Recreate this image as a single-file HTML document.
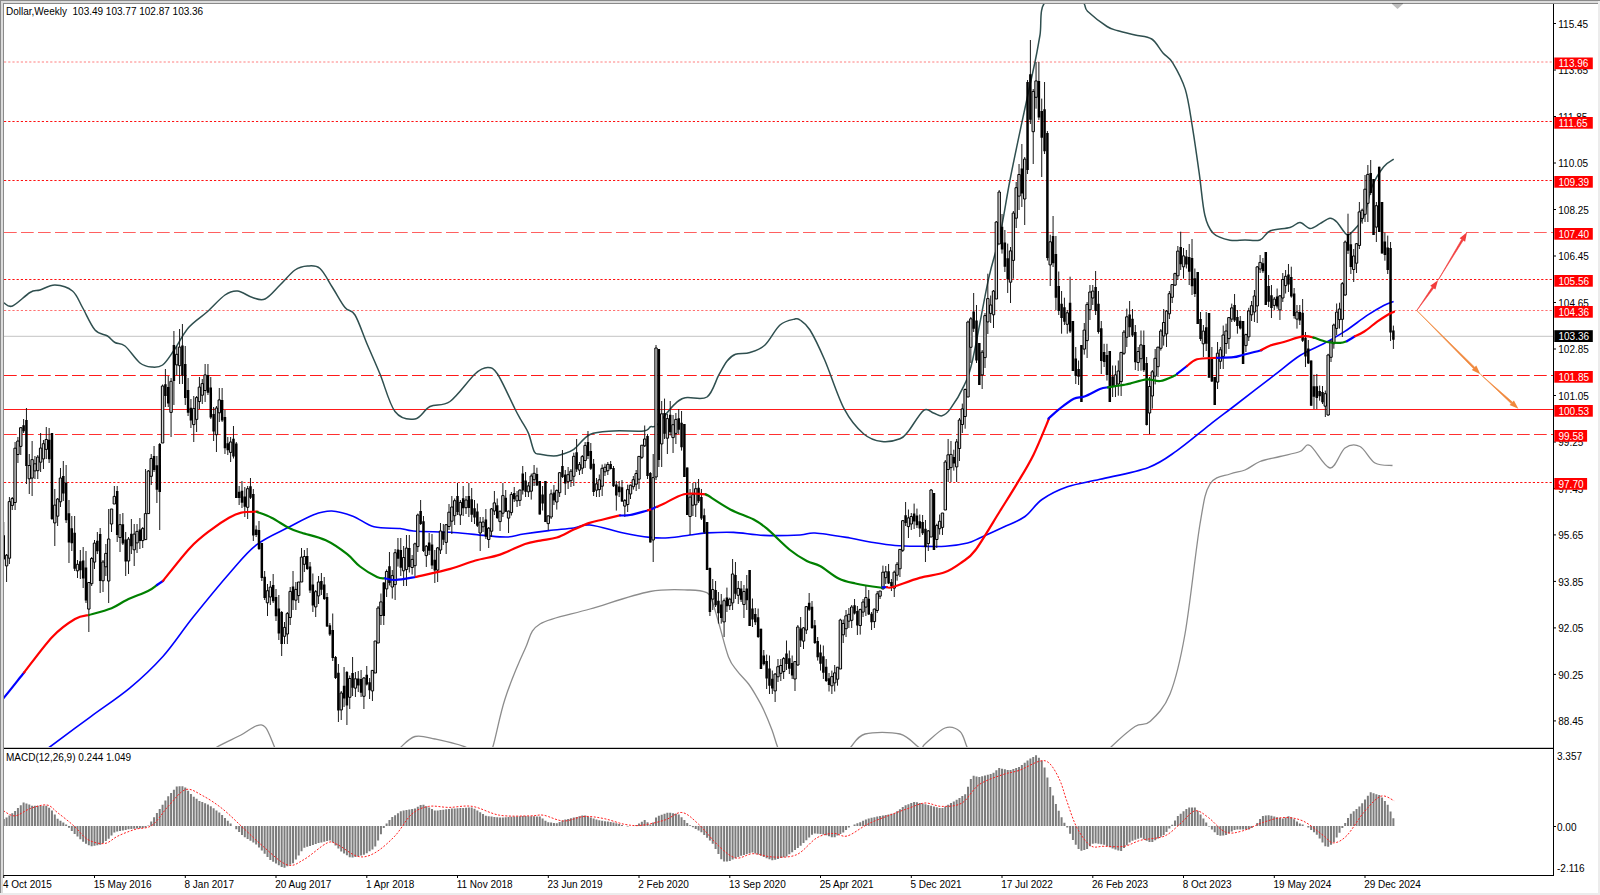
<!DOCTYPE html><html><head><meta charset="utf-8"><style>
html,body{margin:0;padding:0;background:#fff;width:1600px;height:895px;overflow:hidden}
svg{display:block}
text{font-family:"Liberation Sans", sans-serif;}
</style></head><body>
<svg width="1600" height="895" viewBox="0 0 1600 895">
<defs><clipPath id="cm"><rect x="4" y="4" width="1549" height="743"/></clipPath>
<clipPath id="cd"><rect x="4" y="749" width="1549" height="126"/></clipPath></defs>
<rect x="0" y="0" width="1600" height="895" fill="#fff"/>

<rect x="0" y="0" width="1600" height="1" fill="#8a8a8a"/>
<rect x="0" y="1" width="1600" height="2" fill="#dcdcdc"/>
<rect x="0" y="0" width="1" height="895" fill="#8a8a8a"/>
<rect x="1" y="1" width="2" height="894" fill="#dcdcdc"/>
<rect x="3" y="3" width="1595" height="1" fill="#8a8a8a"/>
<rect x="3" y="3" width="1" height="872" fill="#8a8a8a"/>
<rect x="1598" y="1" width="2" height="894" fill="#ececec"/>
<rect x="0" y="893" width="1600" height="2" fill="#ececec"/>
<g clip-path="url(#cm)">
<line x1="4" y1="62" x2="1553" y2="62" stroke="#ff8080" stroke-width="1.1" stroke-dasharray="2.2 2"/>
<line x1="4" y1="121.5" x2="1553" y2="121.5" stroke="#ff1010" stroke-width="1.1" stroke-dasharray="2.2 2"/>
<line x1="4" y1="180.5" x2="1553" y2="180.5" stroke="#ff1010" stroke-width="1.1" stroke-dasharray="2.2 2"/>
<line x1="4" y1="232.5" x2="1553" y2="232.5" stroke="#ff6060" stroke-width="1.1" stroke-dasharray="12.7 4.3"/>
<line x1="4" y1="279.5" x2="1553" y2="279.5" stroke="#ff1010" stroke-width="1.1" stroke-dasharray="2.2 2"/>
<line x1="4" y1="310.5" x2="1553" y2="310.5" stroke="#ff7070" stroke-width="1.1" stroke-dasharray="2.2 2"/>
<line x1="4" y1="375.5" x2="1553" y2="375.5" stroke="#ff1a1a" stroke-width="1.1" stroke-dasharray="12.7 4.3"/>
<line x1="4" y1="409.5" x2="1553" y2="409.5" stroke="#ff1a1a" stroke-width="1.1" />
<line x1="4" y1="434.5" x2="1553" y2="434.5" stroke="#ff3030" stroke-width="1.1" stroke-dasharray="12.7 4.3"/>
<line x1="4" y1="482.5" x2="1553" y2="482.5" stroke="#ff1010" stroke-width="1.1" stroke-dasharray="2.2 2"/>
<line x1="4" y1="336.3" x2="1553" y2="336.3" stroke="#c4c4c4" stroke-width="1"/>
<path d="M4.0,303.0 C5.4,303.5 8.2,307.8 12.5,306.0 C16.8,304.2 25.4,295.2 30.0,292.5 C34.6,289.8 35.8,291.2 40.0,290.0 C44.2,288.8 49.6,284.8 55.0,285.0 C60.4,285.2 67.9,287.2 72.5,291.0 C77.1,294.8 78.8,301.0 82.5,307.5 C86.2,314.0 90.8,325.2 95.0,330.0 C99.2,334.8 104.2,333.9 107.5,336.0 C110.8,338.1 112.1,340.8 115.0,342.5 C117.9,344.2 120.8,342.6 125.0,346.0 C129.2,349.4 135.6,359.5 140.0,363.0 C144.4,366.5 147.9,366.7 151.7,367.0 C155.5,367.3 159.0,367.7 162.6,365.0 C166.2,362.3 169.2,357.2 173.5,351.0 C177.8,344.8 183.0,334.1 188.6,327.6 C194.2,321.1 200.9,317.4 207.0,312.0 C213.1,306.6 219.9,298.5 225.0,295.0 C230.1,291.5 232.9,290.6 237.5,291.0 C242.1,291.4 247.9,296.2 252.5,297.5 C257.1,298.8 260.4,301.1 265.0,299.0 C269.6,296.9 275.0,289.8 280.0,285.0 C285.0,280.2 290.4,273.2 295.0,270.0 C299.6,266.8 303.3,266.2 307.5,266.0 C311.7,265.8 315.8,264.9 320.0,268.5 C324.2,272.1 328.3,281.0 332.5,287.5 C336.7,294.0 341.2,302.9 345.0,307.5 C348.8,312.1 351.2,308.8 355.0,315.0 C358.8,321.2 363.3,335.2 367.5,345.0 C371.7,354.8 375.4,362.9 380.0,374.0 C384.6,385.1 389.2,404.0 395.0,411.5 C400.8,419.0 409.2,419.8 415.0,419.0 C420.8,418.2 424.2,409.4 430.0,406.5 C435.8,403.6 442.5,406.9 450.0,401.5 C457.5,396.1 468.8,379.7 475.0,374.0 C481.2,368.3 483.8,367.5 487.5,367.5 C491.2,367.5 492.9,367.1 497.5,374.0 C502.1,380.9 511.1,401.3 515.0,409.0 C518.9,416.7 518.8,415.9 521.0,420.0 C523.2,424.1 526.3,428.1 528.5,433.4 C530.7,438.7 532.4,448.3 534.4,451.8 C536.4,455.3 537.1,453.6 540.3,454.3 C543.5,455.0 550.1,456.0 553.7,456.0 C557.3,456.0 558.6,455.4 562.0,454.3 C565.4,453.2 569.1,452.6 573.8,449.3 C578.5,446.0 583.4,437.6 590.0,434.5 C596.6,431.4 604.5,431.6 613.5,431.0 C622.5,430.4 637.6,431.7 643.7,431.0 C649.9,430.3 648.2,427.8 650.4,426.8 C652.6,425.8 653.1,428.6 657.0,425.0 C660.9,421.4 668.8,409.9 673.5,405.4 C678.2,400.9 679.6,399.2 685.2,397.8 C690.8,396.4 701.4,400.8 707.0,397.0 C712.6,393.2 715.4,381.2 718.7,375.2 C722.1,369.2 724.3,364.5 727.1,361.0 C729.9,357.5 731.7,355.7 735.5,354.3 C739.3,352.9 745.1,354.1 750.0,352.5 C754.9,350.9 760.0,349.6 765.0,345.0 C770.0,340.4 775.0,329.3 780.0,325.0 C785.0,320.7 791.7,319.8 795.0,319.0 C798.3,318.2 797.5,318.2 800.0,320.0 C802.5,321.8 805.9,323.3 810.0,330.0 C814.1,336.7 819.0,346.9 824.7,360.0 C830.4,373.1 837.7,396.6 844.2,408.9 C850.7,421.2 857.5,428.6 863.8,434.0 C870.1,439.4 876.0,440.8 882.0,441.6 C888.0,442.4 895.6,440.5 900.0,438.8 C904.4,437.1 904.4,435.9 908.4,431.2 C912.4,426.4 919.5,413.3 923.7,410.3 C927.9,407.3 930.5,412.1 933.5,413.0 C936.5,413.9 939.2,416.5 942.0,415.8 C944.8,415.1 946.6,414.0 950.3,408.9 C954.0,403.8 960.6,393.2 964.3,385.1 C968.0,377.0 968.5,377.7 972.6,360.0 C976.7,342.3 984.0,299.5 988.6,278.7 C993.2,257.9 996.4,251.4 1000.0,235.0 C1003.6,218.6 1006.1,200.0 1010.0,180.0 C1013.9,160.0 1019.3,134.7 1023.5,115.0 C1027.7,95.3 1032.2,75.3 1035.0,62.0 C1037.8,48.7 1038.2,45.0 1040.0,35.0 C1041.8,25.0 1038.8,7.5 1045.6,2.0 C1052.3,-3.5 1073.5,0.5 1080.5,2.0 C1087.5,3.5 1083.1,7.1 1087.5,11.2 C1091.9,15.3 1101.9,23.2 1107.0,26.5 C1112.1,29.8 1113.3,29.3 1118.0,30.7 C1122.7,32.1 1129.4,33.6 1135.0,35.0 C1140.6,36.4 1147.0,36.0 1151.7,39.0 C1156.4,42.0 1159.5,49.0 1163.0,53.0 C1166.5,57.0 1169.0,56.7 1172.7,62.8 C1176.4,68.9 1182.0,78.9 1185.3,89.4 C1188.5,99.9 1189.9,111.7 1192.2,125.7 C1194.5,139.7 1197.1,158.3 1199.2,173.2 C1201.3,188.1 1202.5,205.0 1204.8,215.0 C1207.1,225.0 1209.0,229.0 1213.2,233.2 C1217.4,237.4 1224.7,239.1 1230.0,240.2 C1235.3,241.3 1240.0,240.0 1245.0,240.0 C1250.0,240.0 1255.8,241.5 1260.0,240.0 C1264.2,238.5 1265.0,233.1 1270.0,231.0 C1275.0,228.9 1285.0,228.9 1290.0,227.5 C1295.0,226.1 1296.7,222.3 1300.0,222.5 C1303.3,222.7 1306.7,228.3 1310.0,228.5 C1313.3,228.7 1316.7,225.4 1320.0,223.7 C1323.3,222.0 1327.2,218.6 1330.0,218.3 C1332.8,218.0 1334.0,219.3 1336.8,222.0 C1339.6,224.7 1344.0,233.2 1346.8,234.6 C1349.6,236.0 1350.7,233.3 1353.5,230.4 C1356.3,227.5 1360.5,224.3 1363.6,217.0 C1366.7,209.7 1368.7,195.2 1372.0,186.8 C1375.3,178.4 1380.1,171.4 1383.7,166.8 C1387.3,162.2 1392.0,160.5 1393.7,159.2" fill="none" stroke="#2f4f4f" stroke-width="1.5"/>
<path d="M200.0,760.0 C202.8,757.8 210.2,751.2 217.0,747.0 C223.8,742.8 234.5,738.5 241.0,735.0 C247.5,731.5 251.9,727.3 256.0,726.0 C260.1,724.7 262.4,723.9 265.5,727.4 C268.6,730.9 272.1,741.6 274.5,747.0 C276.9,752.4 279.1,757.8 280.0,760.0" fill="none" stroke="#8c8c8c" stroke-width="1.3"/>
<path d="M390.0,760.0 C391.7,758.0 395.8,751.9 400.0,748.0 C404.2,744.1 409.2,738.0 415.0,736.5 C420.8,735.0 426.2,737.1 435.0,739.0 C443.8,740.9 460.8,744.5 467.5,748.0 C474.2,751.5 473.8,758.0 475.0,760.0" fill="none" stroke="#8c8c8c" stroke-width="1.3"/>
<path d="M485.0,760.0 C486.2,758.0 489.2,758.2 492.5,748.0 C495.8,737.8 499.6,715.5 505.0,699.0 C510.4,682.5 519.2,661.5 525.0,649.0 C530.8,636.5 529.2,630.7 540.0,624.0 C550.8,617.3 571.7,614.4 590.0,609.0 C608.3,603.6 633.3,594.7 650.0,591.5 C666.7,588.3 680.5,589.8 690.0,590.0 C699.5,590.2 703.2,591.0 706.8,592.7 C710.4,594.4 709.8,595.3 711.8,600.2 C713.8,605.1 715.7,612.5 718.5,622.0 C721.3,631.5 725.4,648.9 728.5,657.0 C731.6,665.1 733.5,666.1 736.9,670.6 C740.2,675.1 745.2,679.5 748.6,684.0 C752.0,688.5 754.5,693.1 757.0,697.4 C759.5,701.7 761.2,704.6 763.7,710.0 C766.2,715.4 769.6,723.7 772.0,730.0 C774.4,736.3 775.8,743.0 778.0,748.0 C780.2,753.0 783.8,758.0 785.0,760.0" fill="none" stroke="#8c8c8c" stroke-width="1.3"/>
<path d="M840.0,760.0 C841.7,758.0 845.8,752.3 850.0,748.0 C854.2,743.7 856.7,736.3 865.0,734.0 C873.3,731.7 890.8,731.7 900.0,734.0 C909.2,736.3 915.8,746.3 920.0,748.0 C924.2,749.7 920.8,747.3 925.0,744.0 C929.2,740.7 939.2,730.1 945.0,728.0 C950.8,725.9 956.2,728.2 960.0,731.5 C963.8,734.8 965.0,743.2 967.5,748.0 C970.0,752.8 973.8,758.0 975.0,760.0" fill="none" stroke="#8c8c8c" stroke-width="1.3"/>
<path d="M1100.0,760.0 C1101.7,758.0 1104.2,753.6 1110.0,748.0 C1115.8,742.4 1128.3,730.9 1135.0,726.5 C1141.7,722.1 1144.2,726.9 1150.0,721.5 C1155.8,716.1 1164.2,708.6 1170.0,694.0 C1175.8,679.4 1180.0,662.3 1185.0,634.0 C1190.0,605.7 1195.8,549.0 1200.0,524.0 C1204.2,499.0 1205.0,492.3 1210.0,484.0 C1215.0,475.7 1224.2,476.3 1230.0,474.0 C1235.8,471.7 1240.0,472.1 1245.0,470.0 C1250.0,467.9 1254.2,463.8 1260.0,461.5 C1265.8,459.2 1273.3,458.2 1280.0,456.5 C1286.7,454.8 1295.0,453.3 1300.0,451.5 C1305.0,449.7 1305.0,442.8 1310.0,445.5 C1315.0,448.2 1324.2,467.6 1330.0,468.0 C1335.8,468.4 1340.0,451.6 1345.0,448.0 C1350.0,444.4 1355.0,444.0 1360.0,446.5 C1365.0,449.0 1369.6,459.8 1375.0,463.0 C1380.4,466.2 1389.6,465.1 1392.5,465.5" fill="none" stroke="#8c8c8c" stroke-width="1.3"/>
<path d="M40.0,754.0 C41.6,752.8 41.4,753.2 49.8,747.0 C58.2,740.8 77.2,726.6 90.5,716.8 C103.8,707.0 117.6,698.1 129.7,688.1 C141.8,678.1 152.3,668.3 162.9,656.5 C173.5,644.7 181.9,631.1 193.0,617.3 C204.1,603.5 218.7,585.6 229.3,573.5 C239.9,561.4 246.3,552.7 256.4,544.9 C266.4,537.1 280.1,531.8 289.6,526.8 C299.2,521.8 306.7,517.3 313.7,514.7 C320.7,512.1 325.3,510.8 331.8,511.0 C338.3,511.2 345.9,513.6 352.9,516.2 C359.9,518.8 366.1,524.8 374.0,526.8 C381.9,528.8 393.4,527.8 400.0,528.5 C406.6,529.2 404.5,530.3 413.4,531.0 C422.3,531.7 441.9,531.8 453.6,532.5 C465.3,533.2 474.9,534.6 483.8,535.4 C492.7,536.1 500.2,537.2 506.8,537.0 C513.4,536.8 516.5,535.1 523.5,534.0 C530.5,532.9 540.2,531.6 548.6,530.6 C557.0,529.6 566.9,528.9 573.8,528.0 C580.7,527.1 581.7,524.2 590.0,525.0 C598.3,525.8 613.5,530.9 623.5,533.0 C633.5,535.1 642.4,536.6 650.0,537.4 C657.6,538.2 662.3,538.2 669.0,537.8 C675.7,537.4 683.7,535.8 690.0,535.0 C696.3,534.2 699.5,533.3 706.8,532.9 C714.1,532.5 724.1,532.0 733.6,532.4 C743.1,532.8 752.7,535.0 763.8,535.4 C774.9,535.8 791.5,535.4 800.0,535.0 C808.5,534.6 806.7,532.5 815.0,533.0 C823.3,533.5 840.8,536.5 850.0,538.0 C859.2,539.5 862.5,540.8 870.0,542.0 C877.5,543.2 886.7,544.8 895.0,545.5 C903.3,546.2 911.6,546.2 920.0,546.3 C928.4,546.4 937.5,546.8 945.4,546.3 C953.3,545.8 961.8,544.4 967.6,543.0 C973.4,541.6 974.3,540.4 980.3,537.7 C986.3,535.0 996.2,530.5 1003.7,527.0 C1011.2,523.5 1018.6,521.1 1025.0,516.5 C1031.4,511.9 1034.9,504.4 1042.0,499.5 C1049.1,494.6 1057.7,490.2 1067.4,486.8 C1077.1,483.4 1086.5,482.5 1100.0,479.3 C1113.5,476.1 1135.7,472.2 1148.5,467.4 C1161.3,462.6 1166.8,457.7 1177.0,450.6 C1187.2,443.5 1200.0,432.4 1210.0,424.6 C1220.0,416.8 1226.3,412.2 1236.9,404.0 C1247.5,395.8 1263.2,383.7 1273.7,375.6 C1284.2,367.5 1291.7,360.8 1300.0,355.5 C1308.3,350.2 1316.0,347.7 1323.5,343.7 C1331.0,339.7 1337.5,336.1 1344.8,331.4 C1352.1,326.6 1361.0,319.5 1367.5,315.2 C1374.0,310.9 1379.4,307.8 1383.7,305.5 C1388.0,303.2 1391.9,302.2 1393.6,301.6" fill="none" stroke="#0000ff" stroke-width="1.6"/>
<path d="M3.75,522.0V560.0M6.59,554.0V582.0M9.42,497.0V564.0M12.26,497.0V510.0M15.09,442.0V510.0M17.93,437.0V463.0M20.77,427.0V455.0M23.60,419.0V433.0M26.44,408.0V484.0M29.27,454.0V494.0M32.11,441.0V496.0M34.95,456.0V479.0M37.78,455.0V479.0M40.62,433.0V472.0M43.45,440.0V469.0M46.29,427.0V459.0M49.13,428.0V463.0M51.96,433.0V520.0M54.80,489.0V546.0M57.63,498.0V526.0M60.47,468.0V507.0M63.31,461.0V501.0M66.14,465.0V523.0M68.98,500.0V563.0M71.81,516.0V551.0M74.65,516.0V571.0M77.49,560.0V578.0M80.32,550.0V579.0M83.16,547.0V588.0M85.99,551.0V603.0M88.83,582.0V632.0M91.67,557.0V586.0M94.50,540.0V569.0M97.34,532.0V554.0M100.17,528.0V593.0M103.01,560.0V592.0M105.85,544.0V576.0M108.68,509.0V603.0M111.52,509.0V532.0M114.35,486.0V504.0M117.19,486.0V542.0M120.03,514.0V552.0M122.86,513.0V545.0M125.70,532.0V576.0M128.53,537.0V574.0M131.37,519.0V554.0M134.21,524.0V566.0M137.04,524.0V553.0M139.88,518.0V549.0M142.71,527.0V548.0M145.55,469.0V540.0M148.39,470.0V514.0M151.22,454.0V485.0M154.06,446.0V472.0M156.89,456.0V503.0M159.73,443.0V530.0M162.57,384.5V443.0M165.40,369.0V407.0M168.24,376.0V407.0M171.07,378.0V437.0M173.91,331.0V405.0M176.75,346.0V375.0M179.58,329.0V384.0M182.42,324.0V384.0M185.25,346.0V405.0M188.09,378.0V416.0M190.93,399.0V428.0M193.76,396.0V442.0M196.60,396.0V432.0M199.43,377.0V409.0M202.27,379.0V404.0M205.11,364.0V402.0M207.94,364.0V395.0M210.78,377.0V419.0M213.61,407.0V441.0M216.45,406.0V452.0M219.29,388.0V422.0M222.12,388.0V422.0M224.96,410.0V454.0M227.79,437.0V455.0M230.63,437.0V462.0M233.47,426.0V458.5M236.30,442.0V498.0M239.14,486.0V505.0M241.97,481.0V508.0M244.81,487.0V517.0M247.65,486.0V519.0M250.48,478.0V499.0M253.32,489.0V541.0M256.15,525.5V537.0M258.99,521.0V550.0M261.83,543.0V581.0M264.66,571.0V600.0M267.50,584.0V616.0M270.33,581.0V605.0M273.17,574.0V603.0M276.01,589.0V621.0M278.84,595.0V640.0M281.68,611.0V656.0M284.51,622.0V644.0M287.35,612.0V644.0M290.19,587.0V625.0M293.02,571.0V610.0M295.86,582.0V610.0M298.69,582.0V603.0M301.53,548.0V582.0M304.37,550.0V572.0M307.20,548.0V570.0M310.04,562.0V593.0M312.87,573.5V612.0M315.71,590.0V617.0M318.55,576.0V604.0M321.38,573.0V595.0M324.22,577.0V600.0M327.05,593.0V627.0M329.89,623.0V636.0M332.73,613.5V661.0M335.56,656.0V679.0M338.40,664.0V722.0M341.23,691.0V720.0M344.07,667.0V707.0M346.91,671.0V725.0M349.74,675.5V709.0M352.58,657.0V696.0M355.41,672.0V697.0M358.25,671.0V692.0M361.09,670.0V697.0M363.92,677.0V709.0M366.76,666.0V685.5M369.59,678.0V699.0M372.43,670.0V701.0M375.27,641.0V673.0M378.10,606.0V643.0M380.94,593.5V625.0M383.77,582.0V625.0M386.61,569.5V597.0M389.45,552.0V585.5M392.28,570.0V598.6M395.12,549.0V600.0M397.95,538.0V566.6M400.79,538.0V576.0M403.63,546.0V586.0M406.46,535.0V586.0M409.30,535.0V572.5M412.13,555.0V574.6M414.97,542.7V576.0M417.81,513.6V552.0M420.64,500.0V525.0M423.48,516.0V552.0M426.31,545.0V567.0M429.15,533.0V555.0M431.99,534.0V569.0M434.82,550.0V583.0M437.66,547.0V582.0M440.49,523.0V554.0M443.33,524.0V545.0M446.17,524.0V554.0M449.00,504.0V530.0M451.84,496.0V534.0M454.67,498.5V525.0M457.51,483.0V515.0M460.35,500.0V525.0M463.18,486.0V516.0M466.02,496.0V514.0M468.85,483.0V517.0M471.69,488.0V522.0M474.53,500.0V524.0M477.36,503.5V527.0M480.20,517.0V551.0M483.03,517.0V532.0M485.87,509.0V539.0M488.71,527.0V548.0M491.54,508.0V537.0M494.38,491.0V515.0M497.21,498.5V519.0M500.05,510.5V531.0M502.89,483.0V517.0M505.72,490.0V512.0M508.56,510.5V533.0M511.39,492.0V515.5M514.23,487.0V502.0M517.07,491.0V507.0M519.90,489.5V506.0M522.74,466.0V494.5M525.57,472.0V497.0M528.41,482.0V497.0M531.25,473.6V499.6M534.08,465.0V486.0M536.92,467.7V486.0M539.75,481.0V514.6M542.59,486.0V510.5M545.43,481.0V522.0M548.26,515.5V530.0M551.10,489.5V519.0M553.93,485.0V505.0M556.77,489.5V509.6M559.61,472.0V497.0M562.44,450.0V478.0M565.28,470.0V495.0M568.11,467.0V489.0M570.95,469.0V487.0M573.79,452.7V486.0M576.62,439.0V472.0M579.46,462.0V475.0M582.29,455.0V474.0M585.13,442.0V468.0M587.97,431.0V459.0M590.80,443.0V470.0M593.64,459.0V496.0M596.47,478.0V497.0M599.31,474.5V497.0M602.15,464.5V496.0M604.98,463.7V476.0M607.82,462.0V475.0M610.65,461.0V469.5M613.49,466.0V487.0M616.33,481.0V510.6M619.16,481.0V497.0M622.00,480.0V502.0M624.83,499.0V517.0M627.67,484.6V512.0M630.51,484.6V499.0M633.34,476.0V489.6M636.18,470.0V491.0M639.01,456.0V489.0M641.85,445.0V459.0M644.69,425.5V447.0M647.52,434.0V479.0M650.36,472.0V542.5M653.19,454.0V562.0M656.03,345.0V480.0M658.87,349.0V467.0M661.70,401.0V467.0M664.54,398.6V439.0M667.37,414.0V454.0M670.21,401.0V435.5M673.05,415.0V453.0M675.88,413.0V444.0M678.72,409.0V434.0M681.55,411.0V450.6M684.39,424.0V477.0M687.23,467.5V515.0M690.06,489.0V535.0M692.90,483.0V516.0M695.73,482.0V517.0M698.57,479.0V503.0M701.41,489.0V520.0M704.24,508.6V534.0M707.08,522.0V570.0M709.91,567.5V616.0M712.75,579.0V610.0M715.59,581.0V607.0M718.42,592.0V623.6M721.26,594.0V623.6M724.09,598.5V637.0M726.93,587.6V612.0M729.77,597.7V610.0M732.60,559.0V610.0M735.44,562.0V599.0M738.27,581.0V604.0M741.11,581.0V602.0M743.95,585.0V618.0M746.78,575.0V610.0M749.62,570.0V626.0M752.45,598.5V627.0M755.29,608.0V625.0M758.13,608.6V638.0M760.96,628.7V669.0M763.80,650.0V665.5M766.63,654.6V689.0M769.47,655.5V694.0M772.31,670.5V694.0M775.14,673.0V702.0M777.98,659.0V682.0M780.81,659.0V681.0M783.65,657.0V679.0M786.49,640.5V670.0M789.32,650.5V674.0M792.16,655.5V679.0M794.99,661.0V691.0M797.83,625.0V665.6M800.67,617.0V647.0M803.50,627.0V649.0M806.34,606.0V634.0M809.17,593.0V611.0M812.01,601.0V629.0M814.85,620.0V644.0M817.68,637.0V660.6M820.52,644.6V670.6M823.35,645.5V679.0M826.19,659.0V682.0M829.03,673.0V691.5M831.86,670.6V694.0M834.70,665.0V691.5M837.53,667.0V685.7M840.37,618.7V669.0M843.21,619.5V643.0M846.04,610.0V637.0M848.88,608.0V628.0M851.71,605.0V628.0M854.55,599.0V614.5M857.39,606.0V635.0M860.22,608.6V634.6M863.06,599.0V617.0M865.89,586.0V616.0M868.73,590.0V615.0M871.57,612.0V630.0M874.40,608.6V628.0M877.24,591.0V613.0M880.07,591.0V599.0M882.91,565.6V589.0M885.75,566.0V584.0M888.58,564.0V584.0M891.42,579.0V591.0M894.25,570.6V597.0M897.09,562.0V580.7M899.93,549.0V577.0M902.76,520.0V552.0M905.60,502.0V526.0M908.43,509.5V538.0M911.27,513.0V530.0M914.11,503.6V529.0M916.94,508.6V528.0M919.78,514.5V537.0M922.61,515.0V535.0M925.45,520.0V562.0M928.29,530.0V551.0M931.12,489.0V537.0M933.96,493.0V550.0M936.79,523.7V548.0M939.63,514.5V534.6M942.47,513.0V535.0M945.30,460.0V510.0M948.14,439.0V482.0M950.97,441.0V482.0M953.81,449.7V470.6M956.65,439.0V482.0M959.48,418.0V461.0M962.32,403.6V433.0M965.15,388.5V428.7M967.99,320.6V397.0M970.83,317.0V363.0M973.66,293.0V332.0M976.50,305.0V363.0M979.33,343.0V385.0M982.17,350.0V389.0M985.01,313.0V368.0M987.84,273.7V334.0M990.68,295.5V323.0M993.51,290.0V328.0M996.35,221.0V299.0M999.19,190.0V244.0M1002.02,214.0V253.6M1004.86,230.0V272.0M1007.69,243.6V293.0M1010.53,247.0V303.0M1013.37,211.0V278.7M1016.20,182.0V228.0M1019.04,164.0V210.0M1021.87,144.0V207.0M1024.71,157.0V225.0M1027.55,80.0V174.0M1030.38,40.0V124.0M1033.22,89.0V164.0M1036.05,62.0V108.7M1038.89,62.0V120.0M1041.73,98.6V177.0M1044.56,82.0V154.0M1047.40,131.0V260.6M1050.23,234.7V286.0M1053.07,216.0V267.0M1055.91,236.0V310.0M1058.74,271.5V315.0M1061.58,291.0V333.7M1064.41,297.7V325.0M1067.25,310.0V333.7M1070.09,276.7V333.0M1072.92,321.0V371.0M1075.76,347.0V384.0M1078.59,360.5V385.0M1081.43,345.0V402.0M1084.27,323.0V354.6M1087.10,302.0V358.0M1089.94,285.0V320.0M1092.77,285.0V305.0M1095.61,271.0V315.0M1098.45,291.0V333.7M1101.28,321.0V374.0M1104.12,343.8V367.0M1106.95,343.8V380.6M1109.79,351.0V402.0M1112.63,365.5V397.0M1115.46,365.5V397.0M1118.30,360.5V395.7M1121.13,352.0V396.0M1123.97,330.0V355.0M1126.81,308.6V347.0M1129.64,301.0V337.0M1132.48,309.0V337.0M1135.31,325.0V370.0M1138.15,347.0V371.0M1140.99,330.5V370.7M1143.82,330.5V372.0M1146.66,357.0V425.5M1149.49,377.0V434.0M1152.33,370.0V408.7M1155.17,349.0V384.4M1158.00,346.7V377.0M1160.84,329.0V350.6M1163.67,309.0V345.6M1166.51,310.0V347.0M1169.35,291.0V319.0M1172.18,284.4V303.0M1175.02,272.7V286.0M1177.85,246.0V280.0M1180.69,231.7V270.0M1183.53,248.0V278.6M1186.36,250.0V268.5M1189.20,244.0V285.0M1192.03,239.0V295.0M1194.87,268.5V297.0M1197.71,272.0V324.0M1200.54,312.0V341.0M1203.38,325.0V357.0M1206.21,312.0V351.0M1209.05,313.0V377.7M1211.89,347.0V382.0M1214.72,377.0V405.0M1217.56,342.0V389.0M1220.39,347.0V369.0M1223.23,325.5V369.0M1226.07,323.7V353.8M1228.90,317.0V349.0M1231.74,303.6V322.0M1234.57,294.0V322.0M1237.41,310.0V333.7M1240.25,316.0V329.5M1243.08,321.0V364.0M1245.92,333.7V352.0M1248.75,307.8V341.0M1251.59,301.0V321.0M1254.43,290.0V322.0M1257.26,266.0V323.0M1260.10,255.0V273.0M1262.93,258.0V273.0M1265.77,252.0V305.0M1268.61,275.0V307.0M1271.44,285.0V318.0M1274.28,297.0V310.0M1277.11,288.5V308.6M1279.95,295.0V320.0M1282.79,273.0V302.0M1285.62,270.0V293.5M1288.46,264.0V292.0M1291.29,266.7V297.7M1294.13,288.0V318.6M1296.97,305.0V328.6M1299.80,305.0V325.0M1302.64,299.0V342.0M1305.47,332.0V367.0M1308.31,340.0V364.0M1311.15,360.5V405.7M1313.98,374.7V409.0M1316.82,374.0V409.0M1319.65,385.6V400.7M1322.49,386.0V404.0M1325.33,390.6V417.0M1328.16,353.8V415.7M1331.00,340.0V362.0M1333.83,323.6V348.7M1336.67,303.5V335.0M1339.51,302.7V328.6M1342.34,282.0V337.0M1345.18,240.5V295.7M1348.01,213.7V254.0M1350.85,232.0V274.0M1353.69,249.0V282.0M1356.52,243.0V273.0M1359.36,202.0V249.0M1362.19,208.6V223.7M1365.03,175.0V222.0M1367.87,165.0V222.0M1370.70,160.0V195.0M1373.54,179.0V235.0M1376.37,202.0V242.0M1379.21,166.7V232.0M1382.05,202.0V253.6M1384.88,232.5V260.7M1387.72,235.6V274.0M1390.55,242.0V341.0M1393.39,325.6V349.0" stroke="#1a1a1a" stroke-width="1" fill="none"/>
<path d="M5.39,555.2h2.4V565.9h-2.4ZM8.22,501.6h2.4V558.2h-2.4ZM11.06,498.6h2.4V505.4h-2.4ZM13.89,448.2h2.4V502.5h-2.4ZM16.73,441.0h2.4V454.5h-2.4ZM19.57,427.7h2.4V446.4h-2.4ZM28.07,465.5h2.4V478.8h-2.4ZM30.91,459.6h2.4V478.1h-2.4ZM33.75,463.8h2.4V470.9h-2.4ZM36.58,457.1h2.4V470.7h-2.4ZM39.42,448.1h2.4V462.2h-2.4ZM42.25,443.7h2.4V458.9h-2.4ZM45.09,439.5h2.4V449.4h-2.4ZM53.60,505.1h2.4V522.9h-2.4ZM56.43,499.1h2.4V516.2h-2.4ZM59.27,478.0h2.4V501.8h-2.4ZM76.29,564.3h2.4V570.8h-2.4ZM87.63,582.5h2.4V609.1h-2.4ZM90.47,558.5h2.4V583.7h-2.4ZM93.30,543.1h2.4V562.1h-2.4ZM101.81,562.0h2.4V580.8h-2.4ZM104.65,553.4h2.4V566.8h-2.4ZM107.48,539.0h2.4V581.0h-2.4ZM110.32,509.0h2.4V524.0h-2.4ZM113.15,496.4h2.4V504.0h-2.4ZM118.83,524.6h2.4V537.5h-2.4ZM127.33,539.1h2.4V561.0h-2.4ZM133.01,534.1h2.4V549.8h-2.4ZM135.84,531.4h2.4V542.9h-2.4ZM141.51,528.6h2.4V540.6h-2.4ZM144.35,513.6h2.4V539.6h-2.4ZM147.19,471.0h2.4V513.6h-2.4ZM150.02,458.5h2.4V476.3h-2.4ZM161.37,386.0h2.4V443.0h-2.4ZM169.87,381.3h2.4V412.4h-2.4ZM175.55,354.3h2.4V364.9h-2.4ZM178.38,347.1h2.4V365.7h-2.4ZM192.56,408.6h2.4V424.6h-2.4ZM195.40,397.6h2.4V419.4h-2.4ZM198.23,387.1h2.4V401.5h-2.4ZM201.07,383.6h2.4V395.2h-2.4ZM203.91,374.9h2.4V390.5h-2.4ZM215.25,408.0h2.4V434.7h-2.4ZM218.09,399.9h2.4V412.8h-2.4ZM229.43,442.0h2.4V452.4h-2.4ZM246.45,488.7h2.4V507.3h-2.4ZM266.30,590.7h2.4V602.8h-2.4ZM269.13,587.1h2.4V597.0h-2.4ZM283.31,627.4h2.4V636.3h-2.4ZM286.15,613.6h2.4V634.0h-2.4ZM288.99,591.4h2.4V617.5h-2.4ZM294.66,589.4h2.4V600.2h-2.4ZM297.49,582.0h2.4V595.6h-2.4ZM300.33,557.1h2.4V582.0h-2.4ZM303.17,556.5h2.4V564.3h-2.4ZM314.51,591.7h2.4V606.9h-2.4ZM317.35,582.0h2.4V595.9h-2.4ZM340.03,693.0h2.4V709.9h-2.4ZM348.54,678.5h2.4V697.3h-2.4ZM354.21,678.8h2.4V688.1h-2.4ZM362.72,678.0h2.4V696.3h-2.4ZM371.23,670.4h2.4V690.9h-2.4ZM374.07,641.0h2.4V673.0h-2.4ZM376.90,608.0h2.4V643.0h-2.4ZM379.74,601.9h2.4V615.5h-2.4ZM385.41,571.5h2.4V588.9h-2.4ZM391.08,575.6h2.4V587.0h-2.4ZM393.92,552.7h2.4V584.6h-2.4ZM402.43,557.5h2.4V570.8h-2.4ZM405.26,548.1h2.4V569.5h-2.4ZM410.93,559.4h2.4V567.5h-2.4ZM413.77,543.8h2.4V565.7h-2.4ZM416.61,515.0h2.4V546.6h-2.4ZM425.11,546.2h2.4V555.6h-2.4ZM436.46,547.9h2.4V570.1h-2.4ZM439.29,531.0h2.4V550.0h-2.4ZM444.97,524.7h2.4V542.4h-2.4ZM447.80,512.2h2.4V526.5h-2.4ZM450.64,507.0h2.4V521.2h-2.4ZM453.47,500.7h2.4V515.7h-2.4ZM459.15,502.4h2.4V515.0h-2.4ZM464.82,500.0h2.4V507.7h-2.4ZM479.00,522.2h2.4V533.0h-2.4ZM481.83,522.0h2.4V526.8h-2.4ZM487.51,528.2h2.4V539.5h-2.4ZM490.34,508.9h2.4V531.2h-2.4ZM493.18,502.9h2.4V511.0h-2.4ZM498.85,511.3h2.4V521.6h-2.4ZM501.69,495.6h2.4V513.2h-2.4ZM507.36,511.1h2.4V518.1h-2.4ZM510.19,494.4h2.4V512.6h-2.4ZM515.87,495.9h2.4V500.8h-2.4ZM518.70,490.1h2.4V500.4h-2.4ZM527.21,485.9h2.4V491.8h-2.4ZM530.05,476.0h2.4V491.2h-2.4ZM532.88,473.3h2.4V479.7h-2.4ZM547.06,515.9h2.4V523.6h-2.4ZM549.90,493.9h2.4V517.0h-2.4ZM555.57,490.4h2.4V502.0h-2.4ZM558.41,472.7h2.4V492.7h-2.4ZM566.91,474.7h2.4V481.7h-2.4ZM569.75,471.2h2.4V480.7h-2.4ZM572.59,456.3h2.4V476.3h-2.4ZM578.26,464.6h2.4V470.1h-2.4ZM581.09,456.6h2.4V468.2h-2.4ZM583.93,445.4h2.4V460.5h-2.4ZM595.27,483.9h2.4V490.2h-2.4ZM598.11,479.8h2.4V489.6h-2.4ZM600.95,468.3h2.4V486.2h-2.4ZM603.78,467.3h2.4V471.8h-2.4ZM606.62,464.4h2.4V470.7h-2.4ZM623.63,500.6h2.4V506.1h-2.4ZM626.47,489.6h2.4V504.5h-2.4ZM629.31,485.2h2.4V494.0h-2.4ZM632.14,479.7h2.4V486.7h-2.4ZM634.98,473.5h2.4V484.2h-2.4ZM637.81,456.4h2.4V479.2h-2.4ZM640.65,445.2h2.4V457.3h-2.4ZM643.49,439.0h2.4V445.8h-2.4ZM651.99,477.6h2.4V540.0h-2.4ZM654.83,348.0h2.4V477.0h-2.4ZM660.50,413.8h2.4V443.9h-2.4ZM666.17,418.6h2.4V438.2h-2.4ZM671.85,424.7h2.4V437.6h-2.4ZM674.68,419.4h2.4V433.4h-2.4ZM688.86,497.1h2.4V516.5h-2.4ZM691.70,494.6h2.4V505.2h-2.4ZM694.53,488.7h2.4V504.8h-2.4ZM711.55,589.5h2.4V599.1h-2.4ZM722.89,600.7h2.4V621.9h-2.4ZM728.57,599.2h2.4V605.7h-2.4ZM731.40,574.0h2.4V602.9h-2.4ZM737.07,588.4h2.4V595.3h-2.4ZM742.75,591.5h2.4V604.5h-2.4ZM773.94,674.1h2.4V690.9h-2.4ZM776.78,666.7h2.4V676.8h-2.4ZM779.61,665.5h2.4V673.3h-2.4ZM782.45,658.6h2.4V671.5h-2.4ZM793.79,661.6h2.4V679.0h-2.4ZM796.63,627.0h2.4V665.0h-2.4ZM802.30,627.9h2.4V641.1h-2.4ZM805.14,606.6h2.4V630.0h-2.4ZM830.66,676.6h2.4V685.8h-2.4ZM833.50,672.9h2.4V682.9h-2.4ZM836.33,667.2h2.4V679.2h-2.4ZM839.17,620.0h2.4V669.0h-2.4ZM842.01,623.5h2.4V634.8h-2.4ZM844.84,615.8h2.4V628.7h-2.4ZM847.68,614.3h2.4V621.2h-2.4ZM850.51,607.0h2.4V620.3h-2.4ZM859.02,609.6h2.4V625.5h-2.4ZM861.86,602.0h2.4V612.1h-2.4ZM864.69,597.5h2.4V607.1h-2.4ZM873.20,609.1h2.4V621.6h-2.4ZM876.04,593.8h2.4V610.5h-2.4ZM878.87,591.0h2.4V596.2h-2.4ZM881.71,572.2h2.4V589.0h-2.4ZM884.55,571.8h2.4V577.7h-2.4ZM893.05,572.2h2.4V588.1h-2.4ZM895.89,564.3h2.4V575.2h-2.4ZM898.73,549.4h2.4V568.8h-2.4ZM901.56,520.7h2.4V550.3h-2.4ZM907.23,517.9h2.4V526.6h-2.4ZM910.07,516.5h2.4V524.0h-2.4ZM927.09,530.9h2.4V543.6h-2.4ZM929.92,490.0h2.4V537.0h-2.4ZM935.59,525.4h2.4V539.5h-2.4ZM938.43,521.3h2.4V528.7h-2.4ZM941.27,513.0h2.4V527.4h-2.4ZM944.10,462.0h2.4V510.0h-2.4ZM946.94,454.8h2.4V469.5h-2.4ZM949.77,454.4h2.4V467.6h-2.4ZM955.45,441.9h2.4V466.9h-2.4ZM958.28,420.0h2.4V448.5h-2.4ZM961.12,408.9h2.4V424.5h-2.4ZM963.95,389.5h2.4V416.5h-2.4ZM966.79,322.0h2.4V397.0h-2.4ZM969.63,318.8h2.4V347.3h-2.4ZM980.97,352.2h2.4V374.9h-2.4ZM983.81,315.6h2.4V357.6h-2.4ZM986.64,298.6h2.4V321.9h-2.4ZM989.48,305.0h2.4V313.4h-2.4ZM992.31,291.1h2.4V314.8h-2.4ZM995.15,222.0h2.4V299.0h-2.4ZM997.99,192.0h2.4V244.0h-2.4ZM1009.33,250.9h2.4V282.2h-2.4ZM1012.17,213.1h2.4V260.4h-2.4ZM1015.00,187.7h2.4V218.2h-2.4ZM1017.84,174.5h2.4V196.1h-2.4ZM1023.51,159.1h2.4V199.0h-2.4ZM1032.02,91.4h2.4V131.7h-2.4ZM1034.85,80.9h2.4V97.3h-2.4ZM1049.03,241.8h2.4V264.9h-2.4ZM1066.05,312.8h2.4V324.3h-2.4ZM1083.07,330.1h2.4V349.1h-2.4ZM1085.90,304.4h2.4V340.6h-2.4ZM1088.74,292.0h2.4V309.8h-2.4ZM1091.57,291.1h2.4V298.0h-2.4ZM1114.26,374.9h2.4V386.0h-2.4ZM1117.10,371.0h2.4V384.0h-2.4ZM1119.93,352.4h2.4V381.6h-2.4ZM1122.77,332.1h2.4V353.3h-2.4ZM1125.61,316.8h2.4V337.2h-2.4ZM1136.95,351.5h2.4V362.5h-2.4ZM1139.79,344.9h2.4V358.7h-2.4ZM1148.29,386.5h2.4V413.0h-2.4ZM1151.13,371.8h2.4V396.0h-2.4ZM1153.97,358.3h2.4V376.1h-2.4ZM1156.80,347.2h2.4V366.7h-2.4ZM1159.64,331.0h2.4V348.3h-2.4ZM1162.47,322.5h2.4V336.0h-2.4ZM1165.31,311.1h2.4V333.9h-2.4ZM1168.15,293.7h2.4V313.8h-2.4ZM1170.98,284.6h2.4V297.3h-2.4ZM1173.82,273.6h2.4V285.1h-2.4ZM1176.65,251.1h2.4V275.8h-2.4ZM1182.33,255.9h2.4V266.8h-2.4ZM1202.18,331.1h2.4V343.8h-2.4ZM1216.36,353.2h2.4V382.1h-2.4ZM1219.19,349.8h2.4V361.3h-2.4ZM1222.03,335.0h2.4V356.4h-2.4ZM1224.87,331.0h2.4V343.5h-2.4ZM1227.70,317.6h2.4V338.6h-2.4ZM1230.54,307.9h2.4V319.1h-2.4ZM1244.72,334.6h2.4V345.6h-2.4ZM1247.55,310.9h2.4V336.8h-2.4ZM1250.39,305.7h2.4V314.8h-2.4ZM1253.23,296.0h2.4V312.0h-2.4ZM1256.06,266.9h2.4V305.9h-2.4ZM1258.90,262.4h2.4V269.0h-2.4ZM1273.08,299.1h2.4V305.4h-2.4ZM1278.75,295.9h2.4V309.9h-2.4ZM1281.59,279.5h2.4V298.0h-2.4ZM1284.42,276.3h2.4V285.6h-2.4ZM1295.77,312.0h2.4V319.1h-2.4ZM1324.13,393.7h2.4V406.2h-2.4ZM1326.96,355.0h2.4V415.0h-2.4ZM1329.80,341.1h2.4V357.3h-2.4ZM1332.63,325.0h2.4V343.7h-2.4ZM1335.47,312.1h2.4V328.4h-2.4ZM1338.31,309.0h2.4V319.6h-2.4ZM1341.14,283.7h2.4V319.3h-2.4ZM1343.98,242.0h2.4V295.0h-2.4ZM1352.49,256.0h2.4V269.5h-2.4ZM1355.32,243.7h2.4V263.2h-2.4ZM1358.16,211.9h2.4V245.5h-2.4ZM1360.99,210.2h2.4V218.4h-2.4ZM1363.83,189.2h2.4V214.3h-2.4ZM1366.67,174.4h2.4V203.3h-2.4ZM1375.17,205.7h2.4V227.1h-2.4Z" fill="#d4d4d4" stroke="#000" stroke-width="1"/>
<path d="M2.50,535.3h2.5V559.3h-2.5ZM22.35,425.3h2.5V431.3h-2.5ZM25.19,420.0h2.5V466.0h-2.5ZM47.88,439.8h2.5V459.3h-2.5ZM50.71,433.0h2.5V519.0h-2.5ZM62.06,475.9h2.5V493.4h-2.5ZM64.89,482.6h2.5V520.2h-2.5ZM67.73,513.3h2.5V542.4h-2.5ZM70.56,528.2h2.5V543.3h-2.5ZM73.40,532.8h2.5V568.7h-2.5ZM79.07,561.3h2.5V570.2h-2.5ZM81.91,560.6h2.5V578.5h-2.5ZM84.74,567.4h2.5V600.4h-2.5ZM96.09,540.7h2.5V551.3h-2.5ZM98.92,534.0h2.5V581.0h-2.5ZM115.94,491.0h2.5V535.0h-2.5ZM121.61,524.3h2.5V543.4h-2.5ZM124.45,539.5h2.5V561.6h-2.5ZM130.12,533.7h2.5V546.2h-2.5ZM138.63,529.6h2.5V541.0h-2.5ZM152.81,456.1h2.5V470.0h-2.5ZM155.64,465.2h2.5V489.7h-2.5ZM158.48,444.0h2.5V492.0h-2.5ZM164.15,384.2h2.5V396.1h-2.5ZM166.99,386.9h2.5V403.4h-2.5ZM172.66,345.0h2.5V381.0h-2.5ZM181.17,345.6h2.5V375.5h-2.5ZM184.00,364.1h2.5V398.1h-2.5ZM186.84,390.0h2.5V412.8h-2.5ZM189.68,407.7h2.5V420.4h-2.5ZM206.69,374.9h2.5V392.8h-2.5ZM209.53,387.4h2.5V417.5h-2.5ZM212.36,413.9h2.5V431.4h-2.5ZM220.87,399.9h2.5V420.5h-2.5ZM223.71,416.9h2.5V448.3h-2.5ZM226.54,443.2h2.5V450.3h-2.5ZM232.22,438.7h2.5V456.5h-2.5ZM235.05,443.5h2.5V498.0h-2.5ZM237.89,491.8h2.5V497.9h-2.5ZM240.72,490.7h2.5V502.7h-2.5ZM243.56,496.4h2.5V506.7h-2.5ZM249.23,486.3h2.5V497.8h-2.5ZM252.07,494.0h2.5V535.6h-2.5ZM254.90,529.5h2.5V534.9h-2.5ZM257.74,530.1h2.5V549.1h-2.5ZM260.58,543.0h2.5V578.0h-2.5ZM263.41,576.8h2.5V598.0h-2.5ZM271.92,585.0h2.5V601.3h-2.5ZM274.76,597.1h2.5V616.2h-2.5ZM277.59,608.4h2.5V633.5h-2.5ZM280.43,612.0h2.5V644.0h-2.5ZM291.77,586.6h2.5V600.2h-2.5ZM305.95,555.9h2.5V569.0h-2.5ZM308.79,566.6h2.5V590.5h-2.5ZM311.62,584.6h2.5V605.4h-2.5ZM320.13,581.1h2.5V589.8h-2.5ZM322.97,584.4h2.5V599.1h-2.5ZM325.80,597.0h2.5V626.5h-2.5ZM328.64,625.3h2.5V634.4h-2.5ZM331.48,630.0h2.5V658.0h-2.5ZM334.31,657.0h2.5V678.0h-2.5ZM337.15,672.7h2.5V710.5h-2.5ZM342.82,685.8h2.5V698.5h-2.5ZM345.66,672.0h2.5V705.6h-2.5ZM351.33,672.9h2.5V687.8h-2.5ZM357.00,678.5h2.5V685.6h-2.5ZM359.84,679.0h2.5V692.7h-2.5ZM365.51,674.7h2.5V684.6h-2.5ZM368.34,682.3h2.5V690.3h-2.5ZM382.52,582.5h2.5V616.0h-2.5ZM388.20,566.2h2.5V583.1h-2.5ZM396.70,549.4h2.5V558.7h-2.5ZM399.54,550.1h2.5V567.8h-2.5ZM408.05,548.1h2.5V566.9h-2.5ZM419.39,510.9h2.5V523.9h-2.5ZM422.23,521.2h2.5V551.1h-2.5ZM427.90,542.6h2.5V550.8h-2.5ZM430.74,544.5h2.5V565.5h-2.5ZM433.57,559.8h2.5V570.4h-2.5ZM442.08,531.4h2.5V539.7h-2.5ZM456.26,496.1h2.5V512.0h-2.5ZM461.93,498.2h2.5V508.3h-2.5ZM467.60,496.1h2.5V508.0h-2.5ZM470.44,499.3h2.5V514.8h-2.5ZM473.28,508.2h2.5V517.5h-2.5ZM476.11,511.4h2.5V525.8h-2.5ZM484.62,519.6h2.5V536.8h-2.5ZM495.96,505.2h2.5V518.0h-2.5ZM504.47,497.7h2.5V511.8h-2.5ZM512.98,492.9h2.5V499.3h-2.5ZM521.49,473.6h2.5V490.4h-2.5ZM524.32,480.4h2.5V491.8h-2.5ZM535.67,474.1h2.5V485.4h-2.5ZM538.50,481.0h2.5V514.6h-2.5ZM541.34,494.6h2.5V503.4h-2.5ZM544.18,481.0h2.5V522.0h-2.5ZM552.68,492.6h2.5V500.6h-2.5ZM561.19,466.1h2.5V477.0h-2.5ZM564.03,474.6h2.5V483.5h-2.5ZM575.37,452.2h2.5V469.2h-2.5ZM586.72,442.1h2.5V455.9h-2.5ZM589.55,451.1h2.5V468.7h-2.5ZM592.39,463.7h2.5V492.0h-2.5ZM609.40,464.1h2.5V469.1h-2.5ZM612.24,468.0h2.5V486.3h-2.5ZM615.08,484.5h2.5V495.5h-2.5ZM617.91,486.6h2.5V492.3h-2.5ZM620.75,487.2h2.5V501.6h-2.5ZM646.27,436.0h2.5V476.0h-2.5ZM649.11,473.0h2.5V542.5h-2.5ZM657.62,349.0h2.5V460.0h-2.5ZM663.29,413.0h2.5V433.7h-2.5ZM668.96,414.7h2.5V432.3h-2.5ZM677.47,418.2h2.5V429.7h-2.5ZM680.30,422.8h2.5V447.3h-2.5ZM683.14,424.0h2.5V477.0h-2.5ZM685.98,467.5h2.5V515.0h-2.5ZM697.32,487.8h2.5V501.3h-2.5ZM700.16,497.1h2.5V518.6h-2.5ZM702.99,515.2h2.5V532.5h-2.5ZM705.83,522.0h2.5V570.0h-2.5ZM708.66,568.0h2.5V612.0h-2.5ZM714.34,590.1h2.5V605.2h-2.5ZM717.17,600.7h2.5V613.2h-2.5ZM720.01,604.4h2.5V617.9h-2.5ZM725.68,597.5h2.5V606.3h-2.5ZM734.19,575.0h2.5V593.8h-2.5ZM739.86,588.4h2.5V599.7h-2.5ZM745.53,588.5h2.5V600.3h-2.5ZM748.37,570.0h2.5V626.0h-2.5ZM751.20,608.4h2.5V619.6h-2.5ZM754.04,614.0h2.5V622.2h-2.5ZM756.88,617.3h2.5V636.9h-2.5ZM759.71,628.7h2.5V669.0h-2.5ZM762.55,655.4h2.5V664.2h-2.5ZM765.38,660.9h2.5V678.4h-2.5ZM768.22,668.4h2.5V685.8h-2.5ZM771.06,678.7h2.5V688.5h-2.5ZM785.24,653.6h2.5V664.1h-2.5ZM788.07,658.2h2.5V668.7h-2.5ZM790.91,663.1h2.5V675.4h-2.5ZM799.42,628.5h2.5V640.5h-2.5ZM807.92,602.7h2.5V609.8h-2.5ZM810.76,606.8h2.5V627.9h-2.5ZM813.60,625.2h2.5V643.1h-2.5ZM816.43,641.0h2.5V657.3h-2.5ZM819.27,652.5h2.5V663.7h-2.5ZM822.10,656.2h2.5V672.7h-2.5ZM824.94,666.7h2.5V680.9h-2.5ZM827.78,678.2h2.5V685.0h-2.5ZM853.30,605.2h2.5V613.5h-2.5ZM856.14,610.9h2.5V625.6h-2.5ZM867.48,598.8h2.5V614.6h-2.5ZM870.32,613.7h2.5V622.2h-2.5ZM887.33,571.2h2.5V583.4h-2.5ZM890.17,581.9h2.5V586.3h-2.5ZM904.35,515.3h2.5V523.0h-2.5ZM912.86,513.6h2.5V521.5h-2.5ZM915.69,515.4h2.5V525.3h-2.5ZM918.53,521.3h2.5V528.6h-2.5ZM921.36,522.0h2.5V533.2h-2.5ZM924.20,528.7h2.5V547.0h-2.5ZM932.71,493.0h2.5V550.0h-2.5ZM952.56,457.0h2.5V463.4h-2.5ZM972.41,311.6h2.5V328.7h-2.5ZM975.25,320.6h2.5V360.6h-2.5ZM978.08,343.0h2.5V385.0h-2.5ZM1000.77,226.7h2.5V249.5h-2.5ZM1003.61,242.4h2.5V266.8h-2.5ZM1006.44,258.3h2.5V279.2h-2.5ZM1020.62,168.5h2.5V193.6h-2.5ZM1026.30,82.0h2.5V170.0h-2.5ZM1029.13,74.3h2.5V119.7h-2.5ZM1037.64,80.9h2.5V117.4h-2.5ZM1040.48,111.0h2.5V137.7h-2.5ZM1043.31,109.2h2.5V151.2h-2.5ZM1046.15,133.0h2.5V258.0h-2.5ZM1051.82,236.1h2.5V263.2h-2.5ZM1054.66,253.9h2.5V297.7h-2.5ZM1057.49,286.1h2.5V310.9h-2.5ZM1060.33,303.7h2.5V318.1h-2.5ZM1063.16,307.3h2.5V321.7h-2.5ZM1068.84,302.8h2.5V331.5h-2.5ZM1071.67,321.0h2.5V371.0h-2.5ZM1074.51,358.4h2.5V376.0h-2.5ZM1077.34,369.0h2.5V376.8h-2.5ZM1080.18,345.0h2.5V402.0h-2.5ZM1094.36,286.9h2.5V310.9h-2.5ZM1097.20,303.7h2.5V332.1h-2.5ZM1100.03,328.3h2.5V361.0h-2.5ZM1102.87,351.9h2.5V362.0h-2.5ZM1105.70,355.0h2.5V375.1h-2.5ZM1108.54,351.0h2.5V402.0h-2.5ZM1111.38,376.5h2.5V386.0h-2.5ZM1128.39,314.5h2.5V327.2h-2.5ZM1131.23,318.8h2.5V335.5h-2.5ZM1134.06,331.9h2.5V362.2h-2.5ZM1142.57,344.9h2.5V370.2h-2.5ZM1145.41,363.0h2.5V425.0h-2.5ZM1179.44,246.9h2.5V264.3h-2.5ZM1185.11,256.5h2.5V264.4h-2.5ZM1187.95,257.1h2.5V271.8h-2.5ZM1190.78,258.0h2.5V286.2h-2.5ZM1193.62,278.2h2.5V293.9h-2.5ZM1196.46,272.0h2.5V324.0h-2.5ZM1199.29,318.9h2.5V339.0h-2.5ZM1204.96,327.2h2.5V343.8h-2.5ZM1207.80,313.0h2.5V377.7h-2.5ZM1210.64,358.7h2.5V381.4h-2.5ZM1213.47,377.0h2.5V405.0h-2.5ZM1233.32,305.0h2.5V320.5h-2.5ZM1236.16,316.9h2.5V326.0h-2.5ZM1239.00,320.7h2.5V328.5h-2.5ZM1241.83,321.0h2.5V364.0h-2.5ZM1261.68,263.2h2.5V271.2h-2.5ZM1264.52,252.0h2.5V305.0h-2.5ZM1267.36,286.0h2.5V301.8h-2.5ZM1270.19,295.2h2.5V307.9h-2.5ZM1275.86,296.6h2.5V306.4h-2.5ZM1287.21,274.5h2.5V284.4h-2.5ZM1290.04,276.9h2.5V296.5h-2.5ZM1292.88,293.6h2.5V316.1h-2.5ZM1298.55,312.0h2.5V320.5h-2.5ZM1301.39,312.7h2.5V340.8h-2.5ZM1304.22,337.8h2.5V356.5h-2.5ZM1307.06,348.4h2.5V363.6h-2.5ZM1309.90,360.5h2.5V405.7h-2.5ZM1312.73,386.3h2.5V396.8h-2.5ZM1315.57,386.3h2.5V397.9h-2.5ZM1318.40,390.9h2.5V396.3h-2.5ZM1321.24,391.9h2.5V402.3h-2.5ZM1346.76,234.1h2.5V250.8h-2.5ZM1349.60,244.2h2.5V267.1h-2.5ZM1369.45,172.9h2.5V193.0h-2.5ZM1372.29,179.0h2.5V235.0h-2.5ZM1377.96,166.7h2.5V232.0h-2.5ZM1380.80,202.0h2.5V253.6h-2.5ZM1383.63,241.5h2.5V254.9h-2.5ZM1386.47,247.4h2.5V270.1h-2.5ZM1389.30,248.0h2.5V332.4h-2.5ZM1392.14,330.4h2.5V339.8h-2.5Z" fill="#000"/>
<path d="M0.0,698.7 C0.5,698.7 -0.8,702.7 3.0,698.7 C6.8,694.7 19.0,678.8 22.5,674.5 C26.0,670.2 23.8,672.9 24.0,672.6" fill="none" stroke="#0000ff" stroke-width="2.2" stroke-linecap="round"/>
<path d="M24.0,672.6 C28.8,666.6 44.0,645.6 52.5,636.7 C61.0,627.8 68.9,622.6 75.0,619.0 C81.1,615.4 86.7,615.7 89.0,615.0" fill="none" stroke="#ff0000" stroke-width="2.2" stroke-linecap="round"/>
<path d="M89.0,615.0 C92.8,613.9 105.3,610.7 111.6,608.2 C117.9,605.7 120.6,602.9 126.7,600.0 C132.8,597.1 142.9,593.5 148.0,591.0 C153.1,588.5 155.5,586.0 157.0,585.0" fill="none" stroke="#008000" stroke-width="2.2" stroke-linecap="round"/>
<path d="M157.0,585.0 C158.0,584.3 161.9,581.7 162.9,581.0 C163.9,580.3 163.0,580.9 163.0,580.9" fill="none" stroke="#0000ff" stroke-width="2.2" stroke-linecap="round"/>
<path d="M163.0,580.9 C167.5,575.4 182.0,556.4 190.0,547.9 C198.0,539.4 204.5,534.8 211.0,529.8 C217.5,524.8 223.9,520.6 229.0,517.7 C234.1,514.8 236.7,513.6 241.3,512.6 C245.9,511.6 253.8,511.8 256.4,511.7 C259.0,511.6 256.9,511.9 257.0,511.9" fill="none" stroke="#ff0000" stroke-width="2.2" stroke-linecap="round"/>
<path d="M257.0,511.9 C259.4,512.9 266.1,515.0 271.5,517.7 C276.9,520.4 284.6,525.8 289.6,528.3 C294.6,530.8 295.7,530.8 301.7,532.8 C307.7,534.8 318.3,536.8 325.8,540.3 C333.3,543.8 341.2,549.5 346.9,553.9 C352.6,558.3 355.0,562.6 360.0,566.5 C365.0,570.4 372.8,575.0 377.0,577.0 C381.2,579.0 383.7,578.1 385.0,578.3" fill="none" stroke="#008000" stroke-width="2.2" stroke-linecap="round"/>
<path d="M385.0,578.3 C386.8,578.6 390.4,580.2 395.6,580.0 C400.8,579.8 412.6,577.5 416.0,577.0" fill="none" stroke="#0000ff" stroke-width="2.2" stroke-linecap="round"/>
<path d="M416.0,577.0 C421.7,575.6 440.4,571.6 450.3,568.9 C460.2,566.1 467.1,562.9 475.4,560.5 C483.7,558.1 491.7,557.4 500.0,554.6 C508.3,551.9 518.3,546.3 525.0,544.0 C531.7,541.7 535.0,541.7 540.3,540.6 C545.6,539.5 551.3,539.3 556.9,537.5 C562.5,535.7 568.3,532.0 573.7,529.6 C579.1,527.2 584.6,524.6 589.5,522.9 C594.4,521.2 598.1,520.7 603.0,519.5 C607.9,518.3 615.9,516.3 618.7,515.6 C621.5,514.9 619.8,515.5 620.0,515.5" fill="none" stroke="#ff0000" stroke-width="2.2" stroke-linecap="round"/>
<path d="M620.0,515.5 C621.7,515.4 625.7,515.8 630.0,515.0 C634.3,514.2 642.7,511.8 645.7,511.0 C648.7,510.2 647.6,510.4 648.0,510.3" fill="none" stroke="#0000ff" stroke-width="2.2" stroke-linecap="round"/>
<path d="M648.0,510.3 L652.0,509.0" fill="none" stroke="#ff0000" stroke-width="2.2" stroke-linecap="round"/>
<path d="M652.0,509.0 C652.1,508.9 651.7,509.2 652.5,508.8 C653.3,508.4 656.2,507.1 657.0,506.8" fill="none" stroke="#0000ff" stroke-width="2.2" stroke-linecap="round"/>
<path d="M657.0,506.8 C658.1,506.2 659.2,505.8 663.7,503.7 C668.2,501.6 677.5,495.8 684.0,494.2 C690.5,492.6 699.2,494.0 703.0,494.2 C706.8,494.4 706.3,495.0 707.0,495.2" fill="none" stroke="#ff0000" stroke-width="2.2" stroke-linecap="round"/>
<path d="M707.0,495.2 C707.1,495.2 703.7,492.9 707.6,495.3 C711.5,497.7 722.6,505.4 730.3,509.4 C738.0,513.4 747.6,516.3 753.7,519.5 C759.8,522.7 761.0,523.6 767.0,528.7 C773.0,533.8 783.4,544.6 790.0,550.0 C796.6,555.4 801.8,558.3 806.8,561.0 C811.8,563.7 814.7,563.1 820.0,566.0 C825.3,568.9 832.7,575.6 838.6,578.5 C844.5,581.4 848.5,582.0 855.4,583.5 C862.3,585.0 875.5,586.9 880.0,587.5 C884.5,588.1 882.2,587.4 882.6,587.4" fill="none" stroke="#008000" stroke-width="2.2" stroke-linecap="round"/>
<path d="M882.6,587.4 L887.0,587.2" fill="none" stroke="#0000ff" stroke-width="2.2" stroke-linecap="round"/>
<path d="M887.0,587.2 C888.0,587.2 887.6,588.6 893.0,587.0 C898.4,585.4 911.0,580.4 919.6,577.9 C928.2,575.4 937.7,574.9 944.7,572.3 C951.7,569.7 956.4,566.2 961.5,562.5 C966.6,558.8 969.1,558.6 975.5,550.0 C981.9,541.4 993.2,521.9 1000.0,511.0 C1006.8,500.1 1010.8,494.0 1016.4,484.6 C1022.0,475.2 1028.0,465.9 1033.4,454.9 C1038.8,443.9 1046.4,424.6 1049.0,418.5" fill="none" stroke="#ff0000" stroke-width="2.2" stroke-linecap="round"/>
<path d="M1049.0,418.5 C1049.0,418.4 1047.6,419.3 1049.3,417.8 C1051.0,416.3 1054.8,412.5 1058.9,409.3 C1063.0,406.1 1069.5,400.8 1073.8,398.7 C1078.0,396.6 1080.0,398.1 1084.4,396.5 C1088.8,394.9 1096.1,390.5 1100.0,389.0 C1103.9,387.5 1106.5,387.6 1107.8,387.3 C1109.1,387.0 1108.0,387.3 1108.0,387.3" fill="none" stroke="#0000ff" stroke-width="2.2" stroke-linecap="round"/>
<path d="M1108.0,387.3 C1110.6,386.9 1120.1,385.4 1123.8,384.8 C1127.5,384.2 1126.2,384.5 1130.0,383.6 C1133.8,382.7 1141.9,379.8 1146.9,379.4 C1152.0,379.0 1155.6,381.6 1160.3,381.0 C1165.0,380.4 1172.2,376.7 1175.0,375.5 C1177.8,374.3 1176.7,374.2 1177.0,373.9" fill="none" stroke="#008000" stroke-width="2.2" stroke-linecap="round"/>
<path d="M1177.0,373.9 L1187.0,366.0" fill="none" stroke="#0000ff" stroke-width="2.2" stroke-linecap="round"/>
<path d="M1187.0,366.0 C1188.7,364.9 1192.0,360.7 1197.0,359.3 C1202.0,357.9 1213.7,358.1 1217.0,357.8" fill="none" stroke="#ff0000" stroke-width="2.2" stroke-linecap="round"/>
<path d="M1217.0,357.8 C1219.8,357.7 1229.1,357.7 1233.5,357.2 C1237.9,356.7 1239.1,355.8 1243.6,354.7 C1248.1,353.6 1257.4,351.3 1260.3,350.5 C1263.2,349.7 1260.9,350.2 1261.0,350.2" fill="none" stroke="#0000ff" stroke-width="2.2" stroke-linecap="round"/>
<path d="M1261.0,350.2 C1262.6,349.4 1266.6,346.9 1270.4,345.5 C1274.2,344.1 1278.3,343.6 1283.8,342.0 C1289.3,340.4 1298.4,336.9 1303.4,336.2 C1308.4,335.5 1312.2,337.5 1314.0,337.8" fill="none" stroke="#ff0000" stroke-width="2.2" stroke-linecap="round"/>
<path d="M1314.0,337.8 C1314.0,337.8 1312.1,337.1 1314.3,337.8 C1316.5,338.5 1322.6,341.1 1326.9,342.0 C1331.2,342.9 1337.0,343.0 1340.3,342.9 C1343.6,342.8 1345.9,341.5 1347.0,341.2" fill="none" stroke="#008000" stroke-width="2.2" stroke-linecap="round"/>
<path d="M1347.0,341.2 C1348.2,340.4 1353.2,337.3 1354.5,336.5 C1355.8,335.7 1354.9,336.3 1355.0,336.2" fill="none" stroke="#0000ff" stroke-width="2.2" stroke-linecap="round"/>
<path d="M1355.0,336.2 C1356.5,335.5 1360.6,333.9 1364.3,331.5 C1368.0,329.1 1373.4,324.4 1377.2,321.7 C1381.0,319.0 1384.3,316.8 1387.0,315.2 C1389.7,313.6 1392.5,312.5 1393.6,312.0 C1394.7,311.5 1393.6,312.0 1393.6,312.0" fill="none" stroke="#ff0000" stroke-width="2.2" stroke-linecap="round"/>
</g>
<path d="M1416.8,310.5 L1433.6,288.2 L1432.1,287.1Z" fill="#f23c3c" stroke="#f23c3c" stroke-width="0.6"/><path d="M1438.0,280.3 L1435.4,289.5 L1430.2,285.8Z" fill="#f23c3c"/>
<path d="M1438.0,280.3 L1463.1,240.5 L1461.6,239.5Z" fill="#f23c3c" stroke="#f23c3c" stroke-width="0.6"/><path d="M1467.0,232.3 L1465.1,241.7 L1459.6,238.3Z" fill="#f23c3c"/>
<path d="M1416.8,310.5 L1473.4,368.5 L1474.7,367.2Z" fill="#f0883c" stroke="#f0883c" stroke-width="0.6"/><path d="M1480.4,374.2 L1471.8,370.1 L1476.3,365.6Z" fill="#f0883c"/>
<path d="M1480.4,374.2 L1511.1,403.4 L1512.4,402.1Z" fill="#f0883c" stroke="#f0883c" stroke-width="0.6"/><path d="M1518.4,408.8 L1509.6,405.1 L1513.9,400.4Z" fill="#f0883c"/>
<path d="M1392,4 L1403,4 L1397.5,9 Z" fill="#bdbdbd"/><rect x="1392" y="3" width="11" height="1" fill="#6a6a6a"/>
<text x="6" y="15" font-size="10" fill="#000">Dollar,Weekly&#160; 103.49 103.77 102.87 103.36</text>
<rect x="4" y="747" width="1549" height="1" fill="#c8c8c8"/>
<rect x="4" y="748" width="1550" height="1" fill="#000"/>
<rect x="4" y="875" width="1550" height="1" fill="#000"/>
<rect x="1553" y="4" width="1" height="872" fill="#000"/>
<rect x="1553" y="23.0" width="3" height="1" fill="#000"/>
<text x="1558.3" y="27.8" font-size="10" fill="#000">115.45</text>
<rect x="1553" y="69.5" width="3" height="1" fill="#000"/>
<text x="1558.3" y="74.3" font-size="10" fill="#000">113.65</text>
<rect x="1553" y="116.0" width="3" height="1" fill="#000"/>
<text x="1558.3" y="120.8" font-size="10" fill="#000">111.85</text>
<rect x="1553" y="162.5" width="3" height="1" fill="#000"/>
<text x="1558.3" y="167.3" font-size="10" fill="#000">110.05</text>
<rect x="1553" y="209.0" width="3" height="1" fill="#000"/>
<text x="1558.3" y="213.8" font-size="10" fill="#000">108.25</text>
<rect x="1553" y="255.5" width="3" height="1" fill="#000"/>
<text x="1558.3" y="260.3" font-size="10" fill="#000">106.45</text>
<rect x="1553" y="302.0" width="3" height="1" fill="#000"/>
<text x="1558.3" y="306.8" font-size="10" fill="#000">104.65</text>
<rect x="1553" y="348.5" width="3" height="1" fill="#000"/>
<text x="1558.3" y="353.3" font-size="10" fill="#000">102.85</text>
<rect x="1553" y="395.0" width="3" height="1" fill="#000"/>
<text x="1558.3" y="399.8" font-size="10" fill="#000">101.05</text>
<rect x="1553" y="441.5" width="3" height="1" fill="#000"/>
<text x="1558.3" y="446.3" font-size="10" fill="#000">99.25</text>
<rect x="1553" y="488.0" width="3" height="1" fill="#000"/>
<text x="1558.3" y="492.8" font-size="10" fill="#000">97.45</text>
<rect x="1553" y="534.4" width="3" height="1" fill="#000"/>
<text x="1558.3" y="539.2" font-size="10" fill="#000">95.65</text>
<rect x="1553" y="580.9" width="3" height="1" fill="#000"/>
<text x="1558.3" y="585.7" font-size="10" fill="#000">93.85</text>
<rect x="1553" y="627.4" width="3" height="1" fill="#000"/>
<text x="1558.3" y="632.2" font-size="10" fill="#000">92.05</text>
<rect x="1553" y="673.9" width="3" height="1" fill="#000"/>
<text x="1558.3" y="678.7" font-size="10" fill="#000">90.25</text>
<rect x="1553" y="720.4" width="3" height="1" fill="#000"/>
<text x="1558.3" y="725.2" font-size="10" fill="#000">88.45</text>
<rect x="1554.3" y="57.5" width="38.5" height="11.7" fill="#ff0000"/>
<text x="1558.5" y="67.3" font-size="10" fill="#fff">113.96</text>
<rect x="1554.3" y="117.0" width="38.5" height="11.7" fill="#ff0000"/>
<text x="1558.5" y="126.8" font-size="10" fill="#fff">111.65</text>
<rect x="1554.3" y="176.0" width="38.5" height="11.7" fill="#ff0000"/>
<text x="1558.5" y="185.8" font-size="10" fill="#fff">109.39</text>
<rect x="1554.3" y="228.0" width="38.5" height="11.7" fill="#ff0000"/>
<text x="1558.5" y="237.8" font-size="10" fill="#fff">107.40</text>
<rect x="1554.3" y="275.0" width="38.5" height="11.7" fill="#ff0000"/>
<text x="1558.5" y="284.8" font-size="10" fill="#fff">105.56</text>
<rect x="1554.3" y="306.0" width="38.5" height="11.7" fill="#ff0000"/>
<text x="1558.5" y="315.8" font-size="10" fill="#fff">104.36</text>
<rect x="1554.3" y="371.0" width="38.5" height="11.7" fill="#ff0000"/>
<text x="1558.5" y="380.8" font-size="10" fill="#fff">101.85</text>
<rect x="1554.3" y="405.0" width="38.5" height="11.7" fill="#ff0000"/>
<text x="1558.5" y="414.8" font-size="10" fill="#fff">100.53</text>
<rect x="1554.3" y="430.0" width="32.8" height="11.7" fill="#ff0000"/>
<text x="1558.5" y="439.8" font-size="10" fill="#fff">99.58</text>
<rect x="1554.3" y="478.0" width="32.8" height="11.7" fill="#ff0000"/>
<text x="1558.5" y="487.8" font-size="10" fill="#fff">97.70</text>
<rect x="1554.3" y="330.2" width="38.5" height="11.8" fill="#000"/>
<text x="1558.5" y="339.9" font-size="10" fill="#fff">103.36</text>
<g clip-path="url(#cd)">
<path d="M2.75,818.9h2.0V826.0h-2.0ZM5.59,817.6h2.0V826.0h-2.0ZM8.42,815.4h2.0V826.0h-2.0ZM11.26,813.2h2.0V826.0h-2.0ZM14.09,810.9h2.0V826.0h-2.0ZM16.93,808.1h2.0V826.0h-2.0ZM19.77,805.2h2.0V826.0h-2.0ZM22.60,802.4h2.0V826.0h-2.0ZM25.44,803.5h2.0V826.0h-2.0ZM28.27,804.6h2.0V826.0h-2.0ZM31.11,805.7h2.0V826.0h-2.0ZM33.95,805.7h2.0V826.0h-2.0ZM36.78,805.7h2.0V826.0h-2.0ZM39.62,805.7h2.0V826.0h-2.0ZM42.45,805.7h2.0V826.0h-2.0ZM45.29,805.7h2.0V826.0h-2.0ZM48.13,807.7h2.0V826.0h-2.0ZM50.96,810.5h2.0V826.0h-2.0ZM53.80,814.6h2.0V826.0h-2.0ZM56.63,818.8h2.0V826.0h-2.0ZM59.47,820.7h2.0V826.0h-2.0ZM62.31,822.6h2.0V826.0h-2.0ZM65.14,824.6h2.0V826.0h-2.0ZM67.98,826.0h2.0V827.7h-2.0ZM70.81,826.0h2.0V830.9h-2.0ZM73.65,826.0h2.0V834.0h-2.0ZM76.49,826.0h2.0V836.6h-2.0ZM79.32,826.0h2.0V839.2h-2.0ZM82.16,826.0h2.0V841.8h-2.0ZM84.99,826.0h2.0V843.7h-2.0ZM87.83,826.0h2.0V845.2h-2.0ZM90.67,826.0h2.0V846.2h-2.0ZM93.50,826.0h2.0V845.7h-2.0ZM96.34,826.0h2.0V845.2h-2.0ZM99.17,826.0h2.0V844.7h-2.0ZM102.01,826.0h2.0V843.1h-2.0ZM104.85,826.0h2.0V841.1h-2.0ZM107.68,826.0h2.0V838.7h-2.0ZM110.52,826.0h2.0V835.6h-2.0ZM113.35,826.0h2.0V832.4h-2.0ZM116.19,826.0h2.0V831.5h-2.0ZM119.03,826.0h2.0V831.0h-2.0ZM121.86,826.0h2.0V830.4h-2.0ZM124.70,826.0h2.0V829.9h-2.0ZM127.53,826.0h2.0V829.3h-2.0ZM130.37,826.0h2.0V829.1h-2.0ZM133.21,826.0h2.0V828.8h-2.0ZM136.04,826.0h2.0V828.5h-2.0ZM138.88,826.0h2.0V828.2h-2.0ZM141.71,826.0h2.0V827.9h-2.0ZM144.55,826.0h2.0V827.4h-2.0ZM147.39,825.4h2.0V826.0h-2.0ZM150.22,821.4h2.0V826.0h-2.0ZM153.06,817.3h2.0V826.0h-2.0ZM155.89,813.1h2.0V826.0h-2.0ZM158.73,809.0h2.0V826.0h-2.0ZM161.57,804.8h2.0V826.0h-2.0ZM164.40,800.6h2.0V826.0h-2.0ZM167.24,796.3h2.0V826.0h-2.0ZM170.07,792.9h2.0V826.0h-2.0ZM172.91,789.7h2.0V826.0h-2.0ZM175.75,786.5h2.0V826.0h-2.0ZM178.58,786.2h2.0V826.0h-2.0ZM181.42,786.2h2.0V826.0h-2.0ZM184.25,787.6h2.0V826.0h-2.0ZM187.09,790.8h2.0V826.0h-2.0ZM189.93,794.0h2.0V826.0h-2.0ZM192.76,796.7h2.0V826.0h-2.0ZM195.60,798.8h2.0V826.0h-2.0ZM198.43,800.9h2.0V826.0h-2.0ZM201.27,802.1h2.0V826.0h-2.0ZM204.11,803.3h2.0V826.0h-2.0ZM206.94,804.5h2.0V826.0h-2.0ZM209.78,806.3h2.0V826.0h-2.0ZM212.61,808.3h2.0V826.0h-2.0ZM215.45,810.4h2.0V826.0h-2.0ZM218.29,812.4h2.0V826.0h-2.0ZM221.12,815.1h2.0V826.0h-2.0ZM223.96,817.9h2.0V826.0h-2.0ZM226.79,820.7h2.0V826.0h-2.0ZM229.63,823.6h2.0V826.0h-2.0ZM235.30,826.0h2.0V829.3h-2.0ZM238.14,826.0h2.0V832.1h-2.0ZM240.97,826.0h2.0V835.0h-2.0ZM243.81,826.0h2.0V837.2h-2.0ZM246.65,826.0h2.0V839.0h-2.0ZM249.48,826.0h2.0V840.8h-2.0ZM252.32,826.0h2.0V842.6h-2.0ZM255.15,826.0h2.0V844.4h-2.0ZM257.99,826.0h2.0V847.4h-2.0ZM260.83,826.0h2.0V850.6h-2.0ZM263.66,826.0h2.0V853.7h-2.0ZM266.50,826.0h2.0V856.9h-2.0ZM269.33,826.0h2.0V859.9h-2.0ZM272.17,826.0h2.0V861.7h-2.0ZM275.01,826.0h2.0V863.5h-2.0ZM277.84,826.0h2.0V865.3h-2.0ZM280.68,826.0h2.0V867.1h-2.0ZM283.51,826.0h2.0V867.7h-2.0ZM286.35,826.0h2.0V866.2h-2.0ZM289.19,826.0h2.0V864.8h-2.0ZM292.02,826.0h2.0V863.3h-2.0ZM294.86,826.0h2.0V859.6h-2.0ZM297.69,826.0h2.0V855.4h-2.0ZM300.53,826.0h2.0V851.2h-2.0ZM303.37,826.0h2.0V847.8h-2.0ZM306.20,826.0h2.0V846.8h-2.0ZM309.04,826.0h2.0V845.9h-2.0ZM311.87,826.0h2.0V844.9h-2.0ZM314.71,826.0h2.0V843.9h-2.0ZM317.55,826.0h2.0V843.1h-2.0ZM320.38,826.0h2.0V842.4h-2.0ZM323.22,826.0h2.0V841.8h-2.0ZM326.05,826.0h2.0V841.1h-2.0ZM328.89,826.0h2.0V840.4h-2.0ZM331.73,826.0h2.0V842.4h-2.0ZM334.56,826.0h2.0V845.4h-2.0ZM337.40,826.0h2.0V848.5h-2.0ZM340.23,826.0h2.0V851.5h-2.0ZM343.07,826.0h2.0V853.4h-2.0ZM345.91,826.0h2.0V855.3h-2.0ZM348.74,826.0h2.0V857.2h-2.0ZM351.58,826.0h2.0V857.6h-2.0ZM354.41,826.0h2.0V856.9h-2.0ZM357.25,826.0h2.0V856.2h-2.0ZM360.09,826.0h2.0V855.5h-2.0ZM362.92,826.0h2.0V854.8h-2.0ZM365.76,826.0h2.0V853.2h-2.0ZM368.59,826.0h2.0V851.3h-2.0ZM371.43,826.0h2.0V849.4h-2.0ZM374.27,826.0h2.0V846.5h-2.0ZM377.10,826.0h2.0V840.4h-2.0ZM379.94,826.0h2.0V834.2h-2.0ZM382.77,826.0h2.0V828.0h-2.0ZM385.61,823.6h2.0V826.0h-2.0ZM388.45,820.1h2.0V826.0h-2.0ZM391.28,817.1h2.0V826.0h-2.0ZM394.12,815.2h2.0V826.0h-2.0ZM396.95,813.3h2.0V826.0h-2.0ZM399.79,811.3h2.0V826.0h-2.0ZM402.63,810.5h2.0V826.0h-2.0ZM405.46,810.0h2.0V826.0h-2.0ZM408.30,809.5h2.0V826.0h-2.0ZM411.13,809.0h2.0V826.0h-2.0ZM413.97,808.5h2.0V826.0h-2.0ZM416.81,806.7h2.0V826.0h-2.0ZM419.64,804.9h2.0V826.0h-2.0ZM422.48,804.8h2.0V826.0h-2.0ZM425.31,806.2h2.0V826.0h-2.0ZM428.15,807.6h2.0V826.0h-2.0ZM430.99,809.1h2.0V826.0h-2.0ZM433.82,810.5h2.0V826.0h-2.0ZM436.66,810.5h2.0V826.0h-2.0ZM439.49,810.1h2.0V826.0h-2.0ZM442.33,809.7h2.0V826.0h-2.0ZM445.17,809.3h2.0V826.0h-2.0ZM448.00,808.9h2.0V826.0h-2.0ZM450.84,808.5h2.0V826.0h-2.0ZM453.67,808.4h2.0V826.0h-2.0ZM456.51,808.2h2.0V826.0h-2.0ZM459.35,808.1h2.0V826.0h-2.0ZM462.18,807.9h2.0V826.0h-2.0ZM465.02,807.7h2.0V826.0h-2.0ZM467.85,807.6h2.0V826.0h-2.0ZM470.69,807.4h2.0V826.0h-2.0ZM473.53,808.7h2.0V826.0h-2.0ZM476.36,810.5h2.0V826.0h-2.0ZM479.20,812.2h2.0V826.0h-2.0ZM482.03,814.0h2.0V826.0h-2.0ZM484.87,815.8h2.0V826.0h-2.0ZM487.71,816.2h2.0V826.0h-2.0ZM490.54,816.6h2.0V826.0h-2.0ZM493.38,817.0h2.0V826.0h-2.0ZM496.21,817.3h2.0V826.0h-2.0ZM499.05,817.6h2.0V826.0h-2.0ZM501.89,817.4h2.0V826.0h-2.0ZM504.72,817.2h2.0V826.0h-2.0ZM507.56,817.0h2.0V826.0h-2.0ZM510.39,816.8h2.0V826.0h-2.0ZM513.23,816.6h2.0V826.0h-2.0ZM516.07,816.4h2.0V826.0h-2.0ZM518.90,816.2h2.0V826.0h-2.0ZM521.74,816.0h2.0V826.0h-2.0ZM524.57,816.1h2.0V826.0h-2.0ZM527.41,816.2h2.0V826.0h-2.0ZM530.25,816.2h2.0V826.0h-2.0ZM533.08,816.3h2.0V826.0h-2.0ZM535.92,816.4h2.0V826.0h-2.0ZM538.75,816.5h2.0V826.0h-2.0ZM541.59,818.5h2.0V826.0h-2.0ZM544.43,820.8h2.0V826.0h-2.0ZM547.26,822.2h2.0V826.0h-2.0ZM550.10,822.5h2.0V826.0h-2.0ZM552.93,822.9h2.0V826.0h-2.0ZM555.77,823.3h2.0V826.0h-2.0ZM558.61,822.0h2.0V826.0h-2.0ZM561.44,820.6h2.0V826.0h-2.0ZM564.28,819.6h2.0V826.0h-2.0ZM567.11,819.0h2.0V826.0h-2.0ZM569.95,818.3h2.0V826.0h-2.0ZM572.79,817.6h2.0V826.0h-2.0ZM575.62,816.9h2.0V826.0h-2.0ZM578.46,816.3h2.0V826.0h-2.0ZM581.29,815.6h2.0V826.0h-2.0ZM584.13,815.6h2.0V826.0h-2.0ZM586.97,816.6h2.0V826.0h-2.0ZM589.80,817.6h2.0V826.0h-2.0ZM592.64,818.6h2.0V826.0h-2.0ZM595.47,819.6h2.0V826.0h-2.0ZM598.31,820.3h2.0V826.0h-2.0ZM601.15,820.7h2.0V826.0h-2.0ZM603.98,821.2h2.0V826.0h-2.0ZM606.82,821.6h2.0V826.0h-2.0ZM609.65,822.0h2.0V826.0h-2.0ZM612.49,822.5h2.0V826.0h-2.0ZM615.33,823.2h2.0V826.0h-2.0ZM618.16,824.0h2.0V826.0h-2.0ZM621.00,824.9h2.0V826.0h-2.0ZM626.67,826.0h2.0V826.6h-2.0ZM635.18,825.1h2.0V826.0h-2.0ZM638.01,823.4h2.0V826.0h-2.0ZM640.85,821.7h2.0V826.0h-2.0ZM643.69,820.0h2.0V826.0h-2.0ZM646.52,822.2h2.0V826.0h-2.0ZM649.36,824.4h2.0V826.0h-2.0ZM652.19,822.4h2.0V826.0h-2.0ZM655.03,817.5h2.0V826.0h-2.0ZM657.87,815.7h2.0V826.0h-2.0ZM660.70,814.8h2.0V826.0h-2.0ZM663.54,813.8h2.0V826.0h-2.0ZM666.37,812.8h2.0V826.0h-2.0ZM669.21,812.8h2.0V826.0h-2.0ZM672.05,813.3h2.0V826.0h-2.0ZM674.88,813.8h2.0V826.0h-2.0ZM677.72,814.4h2.0V826.0h-2.0ZM680.55,817.3h2.0V826.0h-2.0ZM683.39,820.1h2.0V826.0h-2.0ZM686.23,822.9h2.0V826.0h-2.0ZM689.06,825.3h2.0V826.0h-2.0ZM691.90,826.0h2.0V827.2h-2.0ZM694.73,826.0h2.0V828.9h-2.0ZM697.57,826.0h2.0V830.6h-2.0ZM700.41,826.0h2.0V832.3h-2.0ZM703.24,826.0h2.0V834.9h-2.0ZM706.08,826.0h2.0V837.7h-2.0ZM708.91,826.0h2.0V840.5h-2.0ZM711.75,826.0h2.0V843.7h-2.0ZM714.59,826.0h2.0V848.9h-2.0ZM717.42,826.0h2.0V854.1h-2.0ZM720.26,826.0h2.0V859.3h-2.0ZM723.09,826.0h2.0V861.4h-2.0ZM725.93,826.0h2.0V861.4h-2.0ZM728.77,826.0h2.0V861.0h-2.0ZM731.60,826.0h2.0V859.6h-2.0ZM734.44,826.0h2.0V858.2h-2.0ZM737.27,826.0h2.0V856.9h-2.0ZM740.11,826.0h2.0V855.8h-2.0ZM742.95,826.0h2.0V855.0h-2.0ZM745.78,826.0h2.0V854.1h-2.0ZM748.62,826.0h2.0V853.2h-2.0ZM751.45,826.0h2.0V852.4h-2.0ZM754.29,826.0h2.0V853.4h-2.0ZM757.13,826.0h2.0V854.6h-2.0ZM759.96,826.0h2.0V855.8h-2.0ZM762.80,826.0h2.0V857.1h-2.0ZM765.63,826.0h2.0V858.2h-2.0ZM768.47,826.0h2.0V859.2h-2.0ZM771.31,826.0h2.0V860.2h-2.0ZM774.14,826.0h2.0V859.8h-2.0ZM776.98,826.0h2.0V858.9h-2.0ZM779.81,826.0h2.0V858.1h-2.0ZM782.65,826.0h2.0V857.2h-2.0ZM785.49,826.0h2.0V856.4h-2.0ZM788.32,826.0h2.0V854.3h-2.0ZM791.16,826.0h2.0V852.2h-2.0ZM793.99,826.0h2.0V850.0h-2.0ZM796.83,826.0h2.0V847.9h-2.0ZM799.67,826.0h2.0V845.7h-2.0ZM802.50,826.0h2.0V843.0h-2.0ZM805.34,826.0h2.0V840.2h-2.0ZM808.17,826.0h2.0V837.5h-2.0ZM811.01,826.0h2.0V834.8h-2.0ZM813.85,826.0h2.0V833.5h-2.0ZM816.68,826.0h2.0V833.8h-2.0ZM819.52,826.0h2.0V834.1h-2.0ZM822.35,826.0h2.0V834.4h-2.0ZM825.19,826.0h2.0V835.3h-2.0ZM828.03,826.0h2.0V836.2h-2.0ZM830.86,826.0h2.0V837.2h-2.0ZM833.70,826.0h2.0V837.2h-2.0ZM836.53,826.0h2.0V835.6h-2.0ZM839.37,826.0h2.0V834.0h-2.0ZM842.21,826.0h2.0V832.4h-2.0ZM845.04,826.0h2.0V830.1h-2.0ZM847.88,826.0h2.0V827.5h-2.0ZM853.55,824.4h2.0V826.0h-2.0ZM856.39,823.3h2.0V826.0h-2.0ZM859.22,822.2h2.0V826.0h-2.0ZM862.06,820.8h2.0V826.0h-2.0ZM864.89,819.4h2.0V826.0h-2.0ZM867.73,818.4h2.0V826.0h-2.0ZM870.57,817.8h2.0V826.0h-2.0ZM873.40,817.2h2.0V826.0h-2.0ZM876.24,816.6h2.0V826.0h-2.0ZM879.07,816.1h2.0V826.0h-2.0ZM881.91,815.5h2.0V826.0h-2.0ZM884.75,814.9h2.0V826.0h-2.0ZM887.58,814.4h2.0V826.0h-2.0ZM890.42,813.8h2.0V826.0h-2.0ZM893.25,813.2h2.0V826.0h-2.0ZM896.09,811.3h2.0V826.0h-2.0ZM898.93,809.2h2.0V826.0h-2.0ZM901.76,807.1h2.0V826.0h-2.0ZM904.60,805.3h2.0V826.0h-2.0ZM907.43,804.2h2.0V826.0h-2.0ZM910.27,803.1h2.0V826.0h-2.0ZM913.11,801.9h2.0V826.0h-2.0ZM915.94,802.2h2.0V826.0h-2.0ZM918.78,802.9h2.0V826.0h-2.0ZM921.61,803.6h2.0V826.0h-2.0ZM924.45,804.3h2.0V826.0h-2.0ZM927.29,805.0h2.0V826.0h-2.0ZM930.12,805.8h2.0V826.0h-2.0ZM932.96,806.5h2.0V826.0h-2.0ZM935.79,807.2h2.0V826.0h-2.0ZM938.63,808.0h2.0V826.0h-2.0ZM941.47,808.1h2.0V826.0h-2.0ZM944.30,806.4h2.0V826.0h-2.0ZM947.14,804.8h2.0V826.0h-2.0ZM949.97,803.1h2.0V826.0h-2.0ZM952.81,801.5h2.0V826.0h-2.0ZM955.65,799.8h2.0V826.0h-2.0ZM958.48,797.9h2.0V826.0h-2.0ZM961.32,796.0h2.0V826.0h-2.0ZM964.15,794.2h2.0V826.0h-2.0ZM966.99,786.8h2.0V826.0h-2.0ZM969.83,778.9h2.0V826.0h-2.0ZM972.66,775.8h2.0V826.0h-2.0ZM975.50,776.4h2.0V826.0h-2.0ZM978.33,776.9h2.0V826.0h-2.0ZM981.17,776.2h2.0V826.0h-2.0ZM984.01,775.5h2.0V826.0h-2.0ZM986.84,774.8h2.0V826.0h-2.0ZM989.68,774.1h2.0V826.0h-2.0ZM992.51,772.8h2.0V826.0h-2.0ZM995.35,770.3h2.0V826.0h-2.0ZM998.19,768.0h2.0V826.0h-2.0ZM1001.02,768.7h2.0V826.0h-2.0ZM1003.86,769.3h2.0V826.0h-2.0ZM1006.69,770.0h2.0V826.0h-2.0ZM1009.53,769.9h2.0V826.0h-2.0ZM1012.37,769.0h2.0V826.0h-2.0ZM1015.20,768.0h2.0V826.0h-2.0ZM1018.04,767.1h2.0V826.0h-2.0ZM1020.87,765.0h2.0V826.0h-2.0ZM1023.71,762.7h2.0V826.0h-2.0ZM1026.55,760.4h2.0V826.0h-2.0ZM1029.38,758.6h2.0V826.0h-2.0ZM1032.22,756.9h2.0V826.0h-2.0ZM1035.05,755.2h2.0V826.0h-2.0ZM1037.89,757.8h2.0V826.0h-2.0ZM1040.73,760.6h2.0V826.0h-2.0ZM1043.56,767.4h2.0V826.0h-2.0ZM1046.40,777.4h2.0V826.0h-2.0ZM1049.23,787.1h2.0V826.0h-2.0ZM1052.07,795.5h2.0V826.0h-2.0ZM1054.91,803.9h2.0V826.0h-2.0ZM1057.74,810.8h2.0V826.0h-2.0ZM1060.58,817.3h2.0V826.0h-2.0ZM1063.41,822.8h2.0V826.0h-2.0ZM1066.25,826.0h2.0V827.4h-2.0ZM1069.09,826.0h2.0V833.7h-2.0ZM1071.92,826.0h2.0V839.9h-2.0ZM1074.76,826.0h2.0V844.7h-2.0ZM1077.59,826.0h2.0V849.1h-2.0ZM1080.43,826.0h2.0V850.8h-2.0ZM1083.27,826.0h2.0V849.9h-2.0ZM1086.10,826.0h2.0V848.9h-2.0ZM1088.94,826.0h2.0V846.3h-2.0ZM1091.77,826.0h2.0V843.7h-2.0ZM1094.61,826.0h2.0V843.2h-2.0ZM1097.45,826.0h2.0V843.7h-2.0ZM1100.28,826.0h2.0V844.2h-2.0ZM1103.12,826.0h2.0V844.7h-2.0ZM1105.95,826.0h2.0V845.9h-2.0ZM1108.79,826.0h2.0V847.2h-2.0ZM1111.63,826.0h2.0V848.4h-2.0ZM1114.46,826.0h2.0V849.5h-2.0ZM1117.30,826.0h2.0V850.5h-2.0ZM1120.13,826.0h2.0V850.9h-2.0ZM1122.97,826.0h2.0V848.1h-2.0ZM1125.81,826.0h2.0V845.3h-2.0ZM1128.64,826.0h2.0V842.4h-2.0ZM1131.48,826.0h2.0V840.7h-2.0ZM1134.31,826.0h2.0V839.7h-2.0ZM1137.15,826.0h2.0V838.8h-2.0ZM1139.99,826.0h2.0V837.8h-2.0ZM1142.82,826.0h2.0V839.2h-2.0ZM1145.66,826.0h2.0V840.7h-2.0ZM1148.49,826.0h2.0V842.1h-2.0ZM1151.33,826.0h2.0V842.1h-2.0ZM1154.17,826.0h2.0V840.3h-2.0ZM1157.00,826.0h2.0V838.5h-2.0ZM1159.84,826.0h2.0V836.8h-2.0ZM1162.67,826.0h2.0V835.0h-2.0ZM1165.51,826.0h2.0V832.0h-2.0ZM1168.35,826.0h2.0V828.5h-2.0ZM1171.18,824.8h2.0V826.0h-2.0ZM1174.02,820.5h2.0V826.0h-2.0ZM1176.85,816.1h2.0V826.0h-2.0ZM1179.69,813.7h2.0V826.0h-2.0ZM1182.53,811.3h2.0V826.0h-2.0ZM1185.36,808.9h2.0V826.0h-2.0ZM1188.20,807.4h2.0V826.0h-2.0ZM1191.03,807.4h2.0V826.0h-2.0ZM1193.87,807.4h2.0V826.0h-2.0ZM1196.71,810.8h2.0V826.0h-2.0ZM1199.54,814.4h2.0V826.0h-2.0ZM1202.38,818.4h2.0V826.0h-2.0ZM1205.21,822.6h2.0V826.0h-2.0ZM1208.05,826.0h2.0V826.5h-2.0ZM1210.89,826.0h2.0V829.4h-2.0ZM1213.72,826.0h2.0V832.2h-2.0ZM1216.56,826.0h2.0V835.0h-2.0ZM1219.39,826.0h2.0V835.8h-2.0ZM1222.23,826.0h2.0V835.6h-2.0ZM1225.07,826.0h2.0V835.0h-2.0ZM1227.90,826.0h2.0V833.3h-2.0ZM1230.74,826.0h2.0V831.6h-2.0ZM1233.57,826.0h2.0V830.0h-2.0ZM1236.41,826.0h2.0V829.4h-2.0ZM1239.25,826.0h2.0V829.4h-2.0ZM1242.08,826.0h2.0V829.4h-2.0ZM1244.92,826.0h2.0V829.4h-2.0ZM1247.75,826.0h2.0V829.4h-2.0ZM1250.59,826.0h2.0V827.9h-2.0ZM1256.26,823.0h2.0V826.0h-2.0ZM1259.10,819.1h2.0V826.0h-2.0ZM1261.93,815.9h2.0V826.0h-2.0ZM1264.77,815.6h2.0V826.0h-2.0ZM1267.61,815.3h2.0V826.0h-2.0ZM1270.44,815.8h2.0V826.0h-2.0ZM1273.28,816.5h2.0V826.0h-2.0ZM1276.11,817.2h2.0V826.0h-2.0ZM1278.95,817.9h2.0V826.0h-2.0ZM1281.79,818.6h2.0V826.0h-2.0ZM1284.62,817.4h2.0V826.0h-2.0ZM1287.46,816.3h2.0V826.0h-2.0ZM1290.29,817.2h2.0V826.0h-2.0ZM1293.13,819.3h2.0V826.0h-2.0ZM1295.97,821.4h2.0V826.0h-2.0ZM1298.80,823.4h2.0V826.0h-2.0ZM1301.64,824.5h2.0V826.0h-2.0ZM1307.31,826.0h2.0V827.6h-2.0ZM1310.15,826.0h2.0V829.9h-2.0ZM1312.98,826.0h2.0V832.3h-2.0ZM1315.82,826.0h2.0V834.8h-2.0ZM1318.65,826.0h2.0V838.6h-2.0ZM1321.49,826.0h2.0V842.5h-2.0ZM1324.33,826.0h2.0V846.3h-2.0ZM1327.16,826.0h2.0V846.8h-2.0ZM1330.00,826.0h2.0V844.7h-2.0ZM1332.83,826.0h2.0V842.2h-2.0ZM1335.67,826.0h2.0V837.4h-2.0ZM1338.51,826.0h2.0V832.7h-2.0ZM1341.34,826.0h2.0V827.9h-2.0ZM1344.18,823.0h2.0V826.0h-2.0ZM1347.01,818.0h2.0V826.0h-2.0ZM1349.85,813.7h2.0V826.0h-2.0ZM1352.69,811.3h2.0V826.0h-2.0ZM1355.52,808.9h2.0V826.0h-2.0ZM1358.36,806.6h2.0V826.0h-2.0ZM1361.19,803.3h2.0V826.0h-2.0ZM1364.03,799.5h2.0V826.0h-2.0ZM1366.87,795.7h2.0V826.0h-2.0ZM1369.70,792.3h2.0V826.0h-2.0ZM1372.54,793.2h2.0V826.0h-2.0ZM1375.37,794.2h2.0V826.0h-2.0ZM1378.21,795.1h2.0V826.0h-2.0ZM1381.05,797.4h2.0V826.0h-2.0ZM1383.88,800.9h2.0V826.0h-2.0ZM1386.72,804.8h2.0V826.0h-2.0ZM1389.55,811.5h2.0V826.0h-2.0ZM1392.39,818.2h2.0V826.0h-2.0Z" fill="#7c7c7c"/>
<path d="M3.4,810.8 C5.3,811.6 10.5,816.3 15.0,815.9 C19.5,815.5 25.1,810.3 30.4,808.5 C35.7,806.7 42.5,804.3 47.0,805.0 C51.5,805.7 52.9,809.0 57.4,812.5 C61.9,816.0 69.0,821.5 74.0,826.0 C79.0,830.5 82.6,836.6 87.7,839.5 C92.8,842.4 99.5,844.1 104.6,843.5 C109.6,842.9 112.9,838.4 118.0,836.0 C123.1,833.6 129.3,831.2 135.0,829.4 C140.7,827.6 146.4,829.2 152.0,825.3 C157.6,821.3 163.1,811.7 168.7,805.7 C174.3,799.8 180.0,791.3 185.6,789.6 C191.2,787.9 196.3,792.4 202.5,795.6 C208.7,798.8 215.9,803.6 222.7,809.0 C229.4,814.4 236.3,821.5 243.0,827.7 C249.7,833.9 255.7,840.1 263.0,846.3 C270.3,852.5 280.2,862.6 287.0,864.8 C293.8,867.0 297.0,863.3 303.7,859.7 C310.4,856.1 321.4,845.5 327.0,843.0 C332.6,840.5 332.4,842.4 337.5,844.6 C342.6,846.8 351.5,855.0 357.7,856.4 C363.9,857.8 368.4,856.4 374.6,853.0 C380.8,849.6 388.7,842.5 394.9,836.0 C401.1,829.5 406.1,819.1 411.7,814.2 C417.3,809.3 422.4,807.5 428.6,806.4 C434.8,805.3 441.7,807.4 449.0,807.4 C456.3,807.4 464.1,805.1 472.5,806.4 C480.9,807.7 489.9,813.6 499.5,815.2 C509.1,816.8 522.7,815.9 530.0,815.9 C537.3,815.9 537.9,814.4 543.5,815.2 C549.1,816.1 557.0,820.8 563.7,821.0 C570.5,821.2 577.3,816.9 584.0,816.5 C590.7,816.1 597.2,817.3 604.0,818.6 C610.8,819.9 618.3,823.2 624.5,824.3 C630.7,825.4 634.6,826.0 641.4,825.3 C648.1,824.6 658.2,822.1 665.0,820.0 C671.8,817.9 676.3,811.8 681.9,812.5 C687.5,813.2 692.5,818.7 698.7,824.3 C704.9,829.9 712.8,840.7 719.0,846.3 C725.2,851.9 730.3,856.8 735.9,858.0 C741.5,859.2 746.5,853.9 752.7,853.7 C758.9,853.5 765.7,856.8 773.0,857.0 C780.3,857.2 789.3,857.9 796.6,854.7 C803.9,851.5 810.7,841.3 816.9,837.8 C823.1,834.2 828.7,833.7 833.7,833.4 C838.8,833.1 841.6,837.5 847.2,836.0 C852.8,834.5 860.8,827.6 867.5,824.3 C874.2,820.9 881.0,818.5 887.7,815.9 C894.5,813.3 901.8,810.6 908.0,808.5 C914.2,806.4 919.3,803.4 924.9,803.0 C930.5,802.6 935.5,806.4 941.7,806.4 C947.9,806.4 955.8,806.6 962.0,803.0 C968.2,799.4 972.1,789.5 978.9,784.8 C985.6,780.1 995.8,777.1 1002.5,774.7 C1009.2,772.3 1013.2,772.5 1019.4,770.3 C1025.6,768.0 1034.5,762.3 1039.6,761.2 C1044.6,760.1 1046.3,760.4 1049.7,763.6 C1053.1,766.8 1057.1,774.2 1059.9,780.4 C1062.7,786.6 1063.9,792.8 1066.7,800.7 C1069.5,808.6 1073.0,820.2 1076.9,827.7 C1080.9,835.2 1085.9,842.5 1090.4,845.6 C1094.9,848.7 1098.3,846.2 1103.9,846.3 C1109.5,846.4 1117.9,847.3 1124.1,846.3 C1130.3,845.3 1134.2,841.9 1141.0,840.2 C1147.8,838.5 1157.8,838.9 1164.6,836.0 C1171.3,833.1 1176.4,826.8 1181.5,822.6 C1186.6,818.4 1190.5,811.6 1195.0,810.8 C1199.5,810.0 1203.4,814.0 1208.5,817.6 C1213.6,821.2 1219.8,829.9 1225.4,832.1 C1231.0,834.3 1236.0,832.6 1242.2,831.0 C1248.4,829.4 1255.8,824.8 1262.5,822.6 C1269.2,820.4 1276.0,817.9 1282.7,817.6 C1289.5,817.3 1296.2,818.0 1303.0,821.0 C1309.8,824.0 1318.1,831.8 1323.2,835.4 C1328.3,839.0 1329.4,842.9 1333.4,842.9 C1337.4,842.9 1342.0,840.5 1347.0,835.4 C1352.0,830.3 1358.1,819.0 1363.7,812.5 C1369.3,806.0 1375.5,798.3 1380.6,796.3 C1385.7,794.3 1391.8,800.0 1394.1,800.7" fill="none" stroke="#ff2020" stroke-width="1" stroke-dasharray="2 1.6"/>
</g>
<text x="6" y="761" font-size="10" fill="#000">MACD(12,26,9) 0.244 1.049</text>
<text x="1557" y="760" font-size="10" fill="#000">3.357</text>
<text x="1557" y="830.5" font-size="10" fill="#000">0.00</text>
<text x="1557" y="872" font-size="10" fill="#000">-2.116</text>
<rect x="1553" y="826" width="3" height="1" fill="#000"/>
<rect x="3.2" y="875" width="1" height="3" fill="#000"/>
<text x="3.0" y="888" font-size="10" fill="#000">4 Oct 2015</text>
<rect x="94.0" y="875" width="1" height="3" fill="#000"/>
<text x="93.7" y="888" font-size="10" fill="#000">15 May 2016</text>
<rect x="184.8" y="875" width="1" height="3" fill="#000"/>
<text x="184.5" y="888" font-size="10" fill="#000">8 Jan 2017</text>
<rect x="275.5" y="875" width="1" height="3" fill="#000"/>
<text x="275.2" y="888" font-size="10" fill="#000">20 Aug 2017</text>
<rect x="366.3" y="875" width="1" height="3" fill="#000"/>
<text x="366.0" y="888" font-size="10" fill="#000">1 Apr 2018</text>
<rect x="457.0" y="875" width="1" height="3" fill="#000"/>
<text x="456.7" y="888" font-size="10" fill="#000">11 Nov 2018</text>
<rect x="547.8" y="875" width="1" height="3" fill="#000"/>
<text x="547.5" y="888" font-size="10" fill="#000">23 Jun 2019</text>
<rect x="638.5" y="875" width="1" height="3" fill="#000"/>
<text x="638.2" y="888" font-size="10" fill="#000">2 Feb 2020</text>
<rect x="729.3" y="875" width="1" height="3" fill="#000"/>
<text x="729.0" y="888" font-size="10" fill="#000">13 Sep 2020</text>
<rect x="820.0" y="875" width="1" height="3" fill="#000"/>
<text x="819.7" y="888" font-size="10" fill="#000">25 Apr 2021</text>
<rect x="910.8" y="875" width="1" height="3" fill="#000"/>
<text x="910.5" y="888" font-size="10" fill="#000">5 Dec 2021</text>
<rect x="1001.5" y="875" width="1" height="3" fill="#000"/>
<text x="1001.2" y="888" font-size="10" fill="#000">17 Jul 2022</text>
<rect x="1092.3" y="875" width="1" height="3" fill="#000"/>
<text x="1092.0" y="888" font-size="10" fill="#000">26 Feb 2023</text>
<rect x="1183.0" y="875" width="1" height="3" fill="#000"/>
<text x="1182.7" y="888" font-size="10" fill="#000">8 Oct 2023</text>
<rect x="1273.8" y="875" width="1" height="3" fill="#000"/>
<text x="1273.5" y="888" font-size="10" fill="#000">19 May 2024</text>
<rect x="1364.5" y="875" width="1" height="3" fill="#000"/>
<text x="1364.2" y="888" font-size="10" fill="#000">29 Dec 2024</text>
</svg></body></html>
